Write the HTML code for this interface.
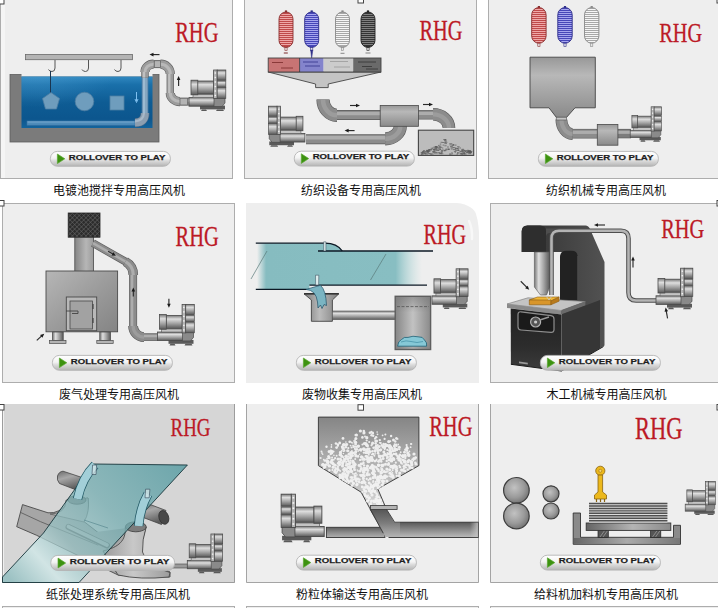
<!DOCTYPE html>
<html lang="zh-CN"><head><meta charset="utf-8"><title>高压风机应用</title>
<style>
html,body{margin:0;padding:0;background:#fff;}
body{width:718px;height:608px;position:relative;overflow:hidden;font-family:"Liberation Sans","Noto Sans CJK SC",sans-serif;}
.cap{position:absolute;width:200px;text-align:center;font-size:12px;line-height:18px;height:18px;color:#111;white-space:nowrap;}
</style></head><body>
<svg width="718" height="608" viewBox="0 0 718 608" style="position:absolute;left:0;top:0"><defs>
<linearGradient id="gH" x1="0" y1="0" x2="0" y2="1">
 <stop offset="0" stop-color="#787878"/><stop offset="0.28" stop-color="#dedede"/><stop offset="0.6" stop-color="#a6a6a6"/><stop offset="1" stop-color="#5a5a5a"/>
</linearGradient>
<linearGradient id="gV" x1="0" y1="0" x2="1" y2="0">
 <stop offset="0" stop-color="#787878"/><stop offset="0.28" stop-color="#dedede"/><stop offset="0.6" stop-color="#a6a6a6"/><stop offset="1" stop-color="#5a5a5a"/>
</linearGradient>
<linearGradient id="gBtn" x1="0" y1="0" x2="0" y2="1">
 <stop offset="0" stop-color="#ffffff"/><stop offset="0.45" stop-color="#f3f3f3"/><stop offset="0.62" stop-color="#dcdcdc"/><stop offset="1" stop-color="#b4b4b4"/>
</linearGradient>
<linearGradient id="gBox" x1="0" y1="0" x2="0" y2="1">
 <stop offset="0" stop-color="#989898"/><stop offset="0.3" stop-color="#b8b8b8"/><stop offset="1" stop-color="#8a8a8a"/>
</linearGradient>
<linearGradient id="gWater" x1="0" y1="0" x2="0" y2="1">
 <stop offset="0" stop-color="#3088c0"/><stop offset="0.16" stop-color="#1a70aa"/><stop offset="0.5" stop-color="#0e5c94"/><stop offset="0.82" stop-color="#0c568e"/><stop offset="1" stop-color="#14649c"/>
</linearGradient>
</defs>
<rect x="0.5" y="-0.5" width="232" height="179" fill="#eeeeee" stroke="#adadad" stroke-width="1"/>
<rect x="1" y="0" width="4" height="178" fill="#f5f5f5" stroke="none" stroke-width="1" />
<rect x="-1.5" y="-1.5" width="5.5" height="5.5" fill="#fff" stroke="#444" stroke-width="1"/>
<text x="175.2" y="42.4" font-family="Liberation Serif, serif" font-size="28.5" fill="#bc1a26" stroke="#bc1a26" stroke-width="0.3" textLength="43.3" lengthAdjust="spacingAndGlyphs">RHG</text>
<rect x="25.5" y="54.5" width="107" height="5.2" fill="#b4b4b4" stroke="#6a6a6a" stroke-width="0.8" />
<path d="M55 60V68Q55 71.5 52 71.5Q49.5 71.5 48.5 69.5" fill="none" stroke="#555" stroke-width="1"/>
<path d="M88.5 60V68Q88.5 71.5 85.5 71.5Q83.0 71.5 82.0 69.5" fill="none" stroke="#555" stroke-width="1"/>
<path d="M121 60V68Q121 71.5 118 71.5Q115.5 71.5 114.5 69.5" fill="none" stroke="#555" stroke-width="1"/>
<rect x="10" y="74.5" width="149" height="67.5" fill="#7b7b7b" stroke="#5e5e5e" stroke-width="0.8" />
<rect x="21.5" y="72" width="131" height="4.5" fill="#eeeeee" stroke="none" stroke-width="1" />
<rect x="21.5" y="76.5" width="131" height="51.5" fill="url(#gWater)" stroke="none" stroke-width="1" />
<radialGradient id="gWl" cx="0.1" cy="0" r="0.6"><stop offset="0" stop-color="#58a6d8" stop-opacity="0.35"/><stop offset="1" stop-color="#58a6d8" stop-opacity="0"/></radialGradient>
<rect x="21.5" y="76.5" width="131" height="51.5" fill="url(#gWl)" stroke="none" stroke-width="1" />
<path d="M50.5 71V93" stroke="#1a3550" stroke-width="1"/>
<path d="M51 92.5L59.5 98.5L56.5 109H45.5L42.5 98.5Z" fill="#6f9dbd" stroke="#4f7fa3" stroke-width="0.8"/>
<circle cx="84.5" cy="101.5" r="9.3" fill="#6f9dbd" stroke="#4f7fa3" stroke-width="0.8"/>
<rect x="110" y="96" width="14" height="14" fill="#6f9dbd" stroke="#4f7fa3" stroke-width="0.8" />
<rect x="27" y="121" width="108" height="4.2" fill="#4f8cba" stroke="#3a75a6" stroke-width="0.6" />
<path d="M27.5 122H134.5" stroke="#7aaad0" stroke-width="0.9"/>
<path d="M145 76V114" fill="none" stroke="#4878a0" stroke-width="6.8"/>
<path d="M145 76V114" fill="none" stroke="#86a6c0" stroke-width="5.2"/>
<path d="M144 77V114" fill="none" stroke="#a4c0d6" stroke-width="1.6"/>
<path d="M145 113Q145 122.6 135 122.8" fill="none" stroke="#4a6a88" stroke-width="9"/>
<path d="M145 113Q145 122.6 135 122.8" fill="none" stroke="#8c9eb0" stroke-width="7.6"/>
<path d="M144 113Q143.5 120.8 135 121.4" fill="none" stroke="#a8b8c8" stroke-width="2.2"/>
<path d="M136.5 92V101M135 99L136.5 102.5L138 99" stroke="#7fc0f0" stroke-width="1" fill="none"/>
<path d="M145 77.5V71" fill="none" stroke="#606060" stroke-width="7.4" stroke-linecap="butt" stroke-linejoin="round"/>
<path d="M145 77.5V71" fill="none" stroke="#9a9a9a" stroke-width="6.2" stroke-linecap="butt" stroke-linejoin="round"/>
<path d="M145 77.5V71" fill="none" stroke="#c0c0c0" stroke-width="2.36" stroke-linecap="butt" stroke-linejoin="round" transform="translate(-0.99 0.00)"/>
<path d="M153 64.2H161" fill="none" stroke="#606060" stroke-width="7.8" stroke-linecap="butt" stroke-linejoin="round"/>
<path d="M153 64.2H161" fill="none" stroke="#9a9a9a" stroke-width="6.6" stroke-linecap="butt" stroke-linejoin="round"/>
<path d="M153 64.2H161" fill="none" stroke="#c0c0c0" stroke-width="2.51" stroke-linecap="butt" stroke-linejoin="round" transform="translate(0.00 -1.06)"/>
<path d="M170.3 73V94" fill="none" stroke="#606060" stroke-width="7.4" stroke-linecap="butt" stroke-linejoin="round"/>
<path d="M170.3 73V94" fill="none" stroke="#9a9a9a" stroke-width="6.2" stroke-linecap="butt" stroke-linejoin="round"/>
<path d="M170.3 73V94" fill="none" stroke="#c0c0c0" stroke-width="2.36" stroke-linecap="butt" stroke-linejoin="round" transform="translate(-0.99 0.00)"/>
<path d="M179 101.6H189.5" fill="none" stroke="#606060" stroke-width="7.8" stroke-linecap="butt" stroke-linejoin="round"/>
<path d="M179 101.6H189.5" fill="none" stroke="#9a9a9a" stroke-width="6.6" stroke-linecap="butt" stroke-linejoin="round"/>
<path d="M179 101.6H189.5" fill="none" stroke="#c0c0c0" stroke-width="2.51" stroke-linecap="butt" stroke-linejoin="round" transform="translate(0.00 -1.06)"/>
<path d="M145 72A8.5 7.799999999999997 0 0 1 153.5 64.2" fill="none" stroke="#606060" stroke-width="9.2" stroke-linecap="butt" stroke-linejoin="round"/>
<path d="M145 72A8.5 7.799999999999997 0 0 1 153.5 64.2" fill="none" stroke="#9c9c9c" stroke-width="8" stroke-linecap="butt" stroke-linejoin="round"/>
<path d="M145 72A8.5 7.799999999999997 0 0 1 153.5 64.2" fill="none" stroke="#b8b8b8" stroke-width="3.04" stroke-linecap="butt" stroke-linejoin="round" transform="translate(0.00 0.00)"/>
<path d="M160.5 64.2A9.800000000000011 9.799999999999997 0 0 1 170.3 74" fill="none" stroke="#606060" stroke-width="9.2" stroke-linecap="butt" stroke-linejoin="round"/>
<path d="M160.5 64.2A9.800000000000011 9.799999999999997 0 0 1 170.3 74" fill="none" stroke="#9c9c9c" stroke-width="8" stroke-linecap="butt" stroke-linejoin="round"/>
<path d="M160.5 64.2A9.800000000000011 9.799999999999997 0 0 1 170.3 74" fill="none" stroke="#b8b8b8" stroke-width="3.04" stroke-linecap="butt" stroke-linejoin="round" transform="translate(0.00 0.00)"/>
<path d="M170.3 93A9.699999999999989 8.599999999999994 0 0 0 180 101.6" fill="none" stroke="#606060" stroke-width="9.2" stroke-linecap="butt" stroke-linejoin="round"/>
<path d="M170.3 93A9.699999999999989 8.599999999999994 0 0 0 180 101.6" fill="none" stroke="#9c9c9c" stroke-width="8" stroke-linecap="butt" stroke-linejoin="round"/>
<path d="M170.3 93A9.699999999999989 8.599999999999994 0 0 0 180 101.6" fill="none" stroke="#b8b8b8" stroke-width="3.04" stroke-linecap="butt" stroke-linejoin="round" transform="translate(0.00 0.00)"/>
<rect x="154.3" y="60.8" width="6" height="6.8" fill="#b4b4b4" stroke="#555" stroke-width="0.6" />
<rect x="180" y="98.2" width="7.4" height="6.8" fill="#b4b4b4" stroke="#555" stroke-width="0.6" />
<g transform="translate(154.5 54.6) rotate(180)"><path d="M-5.0 0H2.0" stroke="#2a2a2a" stroke-width="1.15"/><path d="M5.0 0L1.0 -1.8L1.0 1.8Z" fill="#1a1a1a"/></g>
<g transform="translate(178.6 81) rotate(270)"><path d="M-5.0 0H2.0" stroke="#2a2a2a" stroke-width="1.15"/><path d="M5.0 0L1.0 -1.8L1.0 1.8Z" fill="#1a1a1a"/></g>
<g transform="translate(189 70) scale(1.0)"><rect x="11" y="35.6" width="25" height="3.8" fill="#5a5a5a"/><path d="M13 39.4h4l1 1.6h-6z M28 39.4h6l1 1.6h-8z" fill="#5a5a5a"/><rect x="0" y="27.6" width="26.5" height="8.6" fill="url(#gH)" stroke="#4a4a4a" stroke-width="0.8"/><rect x="4" y="24.6" width="21" height="3" fill="#c4c4c4" stroke="#5a5a5a" stroke-width="0.6"/><rect x="8.6" y="11" width="16.2" height="13" fill="url(#gH)" stroke="#4a4a4a" stroke-width="0.8"/><rect x="2" y="10.2" width="6.8" height="14.6" fill="url(#gH)" stroke="#4a4a4a" stroke-width="0.8"/><path d="M25 28h11v5l-3 3.5h-8z" fill="#8a8a8a" stroke="#4a4a4a" stroke-width="0.7"/><rect x="24.6" y="0" width="3.6" height="28.5" fill="#b4b4b4" stroke="#4a4a4a" stroke-width="0.8"/><rect x="25.6" y="2.3" width="1.5" height="1.4" fill="#f2f2f2"/><rect x="25.6" y="6.8" width="1.5" height="1.4" fill="#f2f2f2"/><rect x="25.6" y="11.3" width="1.5" height="1.4" fill="#f2f2f2"/><rect x="25.6" y="15.8" width="1.5" height="1.4" fill="#f2f2f2"/><rect x="25.6" y="20.3" width="1.5" height="1.4" fill="#f2f2f2"/><rect x="25.6" y="24.8" width="1.5" height="1.4" fill="#f2f2f2"/><rect x="28.2" y="0" width="8.6" height="10.2" fill="url(#gH)" stroke="#4a4a4a" stroke-width="0.8"/><rect x="28.2" y="10.8" width="8.6" height="6.4" fill="url(#gH)" stroke="#4a4a4a" stroke-width="0.7"/><rect x="28.2" y="17.6" width="8.6" height="10.8" fill="url(#gH)" stroke="#4a4a4a" stroke-width="0.7"/></g>
<rect x="50.4" y="151.4" width="120" height="14.9" rx="7" fill="url(#gBtn)" stroke="#b4b4b4" stroke-width="0.9"/>
<path d="M57.40 154.00L64.80 158.80L57.40 163.60Z" fill="#3d9210" stroke="#5aa832" stroke-width="0.7" stroke-linejoin="round"/>
<text x="68.80" y="159.60" font-family="Liberation Sans, sans-serif" font-weight="bold" font-size="7.70" fill="#1e1e1e" stroke="#1e1e1e" stroke-width="0.25" textLength="96.5" lengthAdjust="spacingAndGlyphs">ROLLOVER TO PLAY</text>
<rect x="244.5" y="-0.5" width="232" height="179" fill="#eeeeee" stroke="#adadad" stroke-width="1"/>
<rect x="358.0" y="-2.5" width="5.5" height="5.5" fill="#fff" stroke="#444" stroke-width="1"/>
<text x="419.5" y="40.4" font-family="Liberation Serif, serif" font-size="28.5" fill="#bc1a26" stroke="#bc1a26" stroke-width="0.3" textLength="43.0" lengthAdjust="spacingAndGlyphs">RHG</text>
<rect x="284.9" y="10.4" width="2.2" height="2.4" fill="#8a3030"/>
<rect x="284.9" y="46.9" width="2.2" height="3.6" fill="#e6e6e6" stroke="#8a3030" stroke-width="0.6"/>
<clipPath id="sp2860"><rect x="279.0" y="12" width="14" height="35.4" rx="7.0" ry="7.0"/></clipPath>
<rect x="279.0" y="12" width="14" height="35.4" rx="7.0" ry="7.0" fill="#bf4a4a"/>
<path d="M279.0 14.5H293.0M279.0 16.5H293.0M279.0 18.5H293.0M279.0 20.5H293.0M279.0 22.5H293.0M279.0 24.5H293.0M279.0 26.5H293.0M279.0 28.5H293.0M279.0 30.5H293.0M279.0 32.5H293.0M279.0 34.5H293.0M279.0 36.5H293.0M279.0 38.5H293.0M279.0 40.5H293.0M279.0 42.5H293.0M279.0 44.5H293.0" stroke="#efa8a8" stroke-width="1" clip-path="url(#sp2860)"/>
<rect x="279.0" y="12" width="14" height="35.4" rx="7.0" ry="7.0" fill="none" stroke="#8a3030" stroke-width="0.9"/>
<rect x="310.59999999999997" y="10.4" width="2.2" height="2.4" fill="#30308a"/>
<rect x="310.59999999999997" y="46.9" width="2.2" height="3.6" fill="#e6e6e6" stroke="#30308a" stroke-width="0.6"/>
<clipPath id="sp3117"><rect x="304.7" y="12" width="14" height="35.4" rx="7.0" ry="7.0"/></clipPath>
<rect x="304.7" y="12" width="14" height="35.4" rx="7.0" ry="7.0" fill="#4646b8"/>
<path d="M304.7 14.5H318.7M304.7 16.5H318.7M304.7 18.5H318.7M304.7 20.5H318.7M304.7 22.5H318.7M304.7 24.5H318.7M304.7 26.5H318.7M304.7 28.5H318.7M304.7 30.5H318.7M304.7 32.5H318.7M304.7 34.5H318.7M304.7 36.5H318.7M304.7 38.5H318.7M304.7 40.5H318.7M304.7 42.5H318.7M304.7 44.5H318.7" stroke="#a6a6ee" stroke-width="1" clip-path="url(#sp3117)"/>
<rect x="304.7" y="12" width="14" height="35.4" rx="7.0" ry="7.0" fill="none" stroke="#30308a" stroke-width="0.9"/>
<rect x="341.4" y="10.4" width="2.2" height="2.4" fill="#8a8a8a"/>
<rect x="341.4" y="46.9" width="2.2" height="3.6" fill="#e6e6e6" stroke="#8a8a8a" stroke-width="0.6"/>
<clipPath id="sp3425"><rect x="335.5" y="12" width="14" height="35.4" rx="7.0" ry="7.0"/></clipPath>
<rect x="335.5" y="12" width="14" height="35.4" rx="7.0" ry="7.0" fill="#a8a8a8"/>
<path d="M335.5 14.5H349.5M335.5 16.5H349.5M335.5 18.5H349.5M335.5 20.5H349.5M335.5 22.5H349.5M335.5 24.5H349.5M335.5 26.5H349.5M335.5 28.5H349.5M335.5 30.5H349.5M335.5 32.5H349.5M335.5 34.5H349.5M335.5 36.5H349.5M335.5 38.5H349.5M335.5 40.5H349.5M335.5 42.5H349.5M335.5 44.5H349.5" stroke="#f6f6f6" stroke-width="1" clip-path="url(#sp3425)"/>
<rect x="335.5" y="12" width="14" height="35.4" rx="7.0" ry="7.0" fill="none" stroke="#8a8a8a" stroke-width="0.9"/>
<rect x="366.9" y="10.4" width="2.2" height="2.4" fill="#222222"/>
<rect x="366.9" y="46.9" width="2.2" height="3.6" fill="#e6e6e6" stroke="#222222" stroke-width="0.6"/>
<clipPath id="sp3680"><rect x="361.0" y="12" width="14" height="35.4" rx="7.0" ry="7.0"/></clipPath>
<rect x="361.0" y="12" width="14" height="35.4" rx="7.0" ry="7.0" fill="#343434"/>
<path d="M361.0 14.5H375.0M361.0 16.5H375.0M361.0 18.5H375.0M361.0 20.5H375.0M361.0 22.5H375.0M361.0 24.5H375.0M361.0 26.5H375.0M361.0 28.5H375.0M361.0 30.5H375.0M361.0 32.5H375.0M361.0 34.5H375.0M361.0 36.5H375.0M361.0 38.5H375.0M361.0 40.5H375.0M361.0 42.5H375.0M361.0 44.5H375.0" stroke="#808080" stroke-width="1" clip-path="url(#sp3680)"/>
<rect x="361.0" y="12" width="14" height="35.4" rx="7.0" ry="7.0" fill="none" stroke="#222222" stroke-width="0.9"/>
<path d="M283.8 53H287.8" stroke="#7a2a2a" stroke-width="1"/>
<path d="M310.6 50L311.7 58.5L312.8 50Z" fill="#30308a" stroke="#30308a" stroke-width="0.5"/>
<path d="M340.5 53.3H344.5" stroke="#888" stroke-width="1"/>
<path d="M365.5 53H370.5" stroke="#aaa" stroke-width="1.6"/>
<path d="M268.2 72H381L328.2 84V87.6H315.6V84Z" fill="#c4c4c4" stroke="#444" stroke-width="0.9"/>
<rect x="268.2" y="58" width="31.4" height="14" fill="#c87474" stroke="none" stroke-width="1" />
<rect x="299.6" y="58" width="24" height="14" fill="#8484cc" stroke="none" stroke-width="1" />
<rect x="323.6" y="58" width="29.6" height="14" fill="#cccccc" stroke="none" stroke-width="1" />
<rect x="353.2" y="58" width="27.8" height="14" fill="#6a6a6a" stroke="none" stroke-width="1" />
<rect x="268.2" y="58" width="112.8" height="14" fill="none" stroke="#444" stroke-width="0.9" />
<path d="M299.6 58V72" stroke="#333" stroke-width="0.8"/>
<path d="M272 62.5H283M281 68H293" stroke="#7a2a2a" stroke-width="0.8"/>
<path d="M303 62H318M305 66H320" stroke="#33338c" stroke-width="0.8"/>
<path d="M330 61.5H348M334 67H350" stroke="#999" stroke-width="0.8"/>
<path d="M358 62H376M362 66.5H372M366 69H378" stroke="#333" stroke-width="0.8"/>
<path d="M336.5 115H381" fill="none" stroke="#5a5a5a" stroke-width="9.799999999999999" stroke-linecap="butt" stroke-linejoin="round"/>
<path d="M336.5 115H381" fill="none" stroke="#8c8c8c" stroke-width="8.6" stroke-linecap="butt" stroke-linejoin="round"/>
<path d="M336.5 115H381" fill="none" stroke="#adadad" stroke-width="3.27" stroke-linecap="butt" stroke-linejoin="round" transform="translate(0.00 -1.38)"/>
<path d="M418 114.8H434" fill="none" stroke="#5a5a5a" stroke-width="9.399999999999999" stroke-linecap="butt" stroke-linejoin="round"/>
<path d="M418 114.8H434" fill="none" stroke="#8c8c8c" stroke-width="8.2" stroke-linecap="butt" stroke-linejoin="round"/>
<path d="M418 114.8H434" fill="none" stroke="#adadad" stroke-width="3.12" stroke-linecap="butt" stroke-linejoin="round" transform="translate(0.00 -1.31)"/>
<path d="M306 139.2H386" fill="none" stroke="#5a5a5a" stroke-width="10.0" stroke-linecap="butt" stroke-linejoin="round"/>
<path d="M306 139.2H386" fill="none" stroke="#8c8c8c" stroke-width="8.8" stroke-linecap="butt" stroke-linejoin="round"/>
<path d="M306 139.2H386" fill="none" stroke="#adadad" stroke-width="3.34" stroke-linecap="butt" stroke-linejoin="round" transform="translate(0.00 -1.41)"/>
<path d="M323 99.5A14 15.799999999999997 0 0 0 337 115.3" fill="none" stroke="#5a5a5a" stroke-width="13.2" stroke-linecap="butt" stroke-linejoin="round"/>
<path d="M323 99.5A14 15.799999999999997 0 0 0 337 115.3" fill="none" stroke="#8c8c8c" stroke-width="12" stroke-linecap="butt" stroke-linejoin="round"/>
<path d="M323 99.5A14 15.799999999999997 0 0 0 337 115.3" fill="none" stroke="#9c9c9c" stroke-width="4.56" stroke-linecap="butt" stroke-linejoin="round" transform="translate(0.00 0.00)"/>
<path d="M433 114.3A16 13.700000000000003 0 0 1 449 128" fill="none" stroke="#5a5a5a" stroke-width="12.6" stroke-linecap="butt" stroke-linejoin="round"/>
<path d="M433 114.3A16 13.700000000000003 0 0 1 449 128" fill="none" stroke="#8c8c8c" stroke-width="11.4" stroke-linecap="butt" stroke-linejoin="round"/>
<path d="M433 114.3A16 13.700000000000003 0 0 1 449 128" fill="none" stroke="#9c9c9c" stroke-width="4.33" stroke-linecap="butt" stroke-linejoin="round" transform="translate(0.00 0.00)"/>
<path d="M385.2 138.8A15.100000000000023 12.800000000000011 0 0 0 400.3 126" fill="none" stroke="#5a5a5a" stroke-width="13.2" stroke-linecap="butt" stroke-linejoin="round"/>
<path d="M385.2 138.8A15.100000000000023 12.800000000000011 0 0 0 400.3 126" fill="none" stroke="#8c8c8c" stroke-width="12" stroke-linecap="butt" stroke-linejoin="round"/>
<path d="M385.2 138.8A15.100000000000023 12.800000000000011 0 0 0 400.3 126" fill="none" stroke="#9c9c9c" stroke-width="4.56" stroke-linecap="butt" stroke-linejoin="round" transform="translate(0.00 0.00)"/>
<rect x="380.2" y="105.5" width="38.2" height="20.8" fill="url(#gBox)" stroke="#4a4a4a" stroke-width="0.8"/>
<g transform="translate(355 105.5) rotate(0)"><path d="M-5.0 0H2.0" stroke="#2a2a2a" stroke-width="1.15"/><path d="M5.0 0L1.0 -1.8L1.0 1.8Z" fill="#1a1a1a"/></g>
<g transform="translate(428 104.5) rotate(0)"><path d="M-5.0 0H2.0" stroke="#2a2a2a" stroke-width="1.15"/><path d="M5.0 0L1.0 -1.8L1.0 1.8Z" fill="#1a1a1a"/></g>
<g transform="translate(349.6 130.6) rotate(180)"><path d="M-5.0 0H2.0" stroke="#2a2a2a" stroke-width="1.15"/><path d="M5.0 0L1.0 -1.8L1.0 1.8Z" fill="#1a1a1a"/></g>
<rect x="418.4" y="130.2" width="55.3" height="25.2" fill="#bcbcbc" stroke="#444" stroke-width="1.1" />
<path d="M451.6 145.3h2.8M467.6 151.3h3.0M422.0 152.9h3.1M452.9 144.5h1.4M444.0 150.6h2.3M449.2 154.1h1.6M434.5 147.2h2.7M428.5 149.8h1.5M451.4 152.7h1.2M464.1 153.2h1.6M469.6 151.5h1.8M468.6 152.4h2.6M430.7 148.3h2.6M468.8 151.2h1.8M438.6 152.6h1.5M423.8 153.2h2.4M420.7 152.6h1.9M436.0 147.3h2.2M436.3 150.1h2.6M423.4 150.8h1.2M458.0 147.9h1.2M459.9 151.8h2.4M421.0 154.2h1.6M468.3 153.6h2.7M467.0 150.3h1.9M438.2 149.0h2.8M425.9 150.8h2.8M463.5 154.1h3.1M425.1 152.8h2.4M466.4 152.8h3.0M447.8 149.5h1.8M429.4 153.8h1.5M455.0 145.1h1.5M422.9 151.0h2.3M440.8 151.3h2.4M461.8 151.5h2.0M423.3 151.0h1.3M445.2 141.1h1.5M457.1 146.7h2.5M459.9 153.6h2.1M428.0 149.7h1.8M443.2 139.6h2.9M469.3 152.8h2.2M457.0 150.5h1.8M440.7 152.5h2.0M469.9 151.4h2.5M445.5 149.0h1.4M434.1 148.4h2.9M438.6 146.1h2.7M455.2 148.3h2.7M438.7 146.9h1.8M444.8 142.3h2.6M435.2 146.6h2.5M449.5 154.1h2.3M433.0 149.5h2.1M461.3 150.2h2.8M437.9 148.0h2.7M461.9 152.1h2.9M464.0 150.5h3.2M468.3 152.4h2.3M428.8 149.5h3.1M444.4 143.6h2.6M457.0 152.9h2.8M449.5 144.9h2.0M451.7 145.0h2.5M456.5 154.1h1.5M442.6 145.1h1.6M454.8 148.4h1.3M444.1 150.8h1.3M427.2 152.7h1.6M430.2 154.1h2.1M439.5 147.4h2.4M432.4 148.0h1.2M440.8 150.8h2.0M426.3 150.3h1.9M422.3 152.4h1.4M447.8 149.1h2.4M468.4 151.3h2.0M461.1 150.2h1.9M427.6 151.1h2.3M468.4 150.7h2.4M438.1 145.4h1.2M425.9 151.7h2.4M427.5 151.0h3.0M439.3 149.5h1.7M435.1 146.5h2.0M468.6 151.0h2.4M433.5 147.1h2.2M441.3 150.1h3.2M445.1 149.8h2.2M426.6 151.2h2.1M435.2 148.0h2.9M421.2 152.9h1.7M467.3 151.0h1.7M433.9 153.1h3.2M435.2 149.4h2.1M452.7 147.6h2.7M426.4 150.6h1.8M447.2 149.1h1.8M447.0 147.0h1.9M457.8 149.8h1.3M433.1 151.0h3.0M464.9 151.5h1.2M459.4 151.3h2.4M455.9 148.9h2.2M466.1 152.5h2.0M463.1 153.2h1.8M462.0 153.9h2.9M455.2 150.4h1.8M459.5 148.0h1.5M444.4 145.8h2.2M437.0 152.9h2.4M461.1 153.9h1.7M461.5 149.3h2.5M421.8 152.2h3.2M470.4 152.3h1.3M462.6 153.0h2.5M468.1 151.6h1.5M435.1 146.9h1.5M451.0 149.0h1.5M451.6 153.8h1.4M439.5 153.5h1.3M449.3 143.7h3.0M427.2 152.1h1.8M450.5 147.8h3.1M439.2 153.7h2.6M428.1 150.8h2.2M466.0 151.7h2.4M433.7 150.2h1.7M458.0 150.4h1.5M432.2 151.7h2.7M429.5 150.0h2.5M424.8 151.5h1.4M426.7 151.3h1.7M464.3 151.7h1.8M460.3 154.1h2.7M423.2 153.8h3.1M454.6 152.2h1.4M469.1 152.1h2.8M427.5 151.0h1.9M432.3 152.0h2.4M437.9 150.5h1.5M462.1 150.3h2.8M442.2 142.5h2.2M450.1 146.5h2.7M440.3 153.1h1.3M430.6 154.0h3.0M444.5 142.5h1.2M444.0 140.8h2.4M441.9 148.0h1.4M428.2 153.4h1.9M439.8 144.1h1.5M433.2 152.3h1.5M434.9 152.4h2.2M422.1 151.5h1.9M467.4 151.5h2.5M444.1 139.9h1.4M453.9 151.4h2.5M457.0 153.0h1.6M421.7 153.6h1.4M440.6 142.3h1.9M436.1 150.3h1.8M457.1 148.6h1.5M432.5 149.6h3.1M452.8 149.6h3.2M420.8 154.1h2.8M441.0 153.7h2.3M470.0 152.7h1.9M425.2 154.0h3.0M445.1 139.6h1.3" stroke="#5a5a5a" stroke-width="0.7" fill="none"/>
<g transform="translate(304.9 106.2) scale(-0.99 0.99)"><rect x="11" y="35.6" width="25" height="3.8" fill="#5a5a5a"/><path d="M13 39.4h4l1 1.6h-6z M28 39.4h6l1 1.6h-8z" fill="#5a5a5a"/><rect x="0" y="27.6" width="26.5" height="8.6" fill="url(#gH)" stroke="#4a4a4a" stroke-width="0.8"/><rect x="4" y="24.6" width="21" height="3" fill="#c4c4c4" stroke="#5a5a5a" stroke-width="0.6"/><rect x="8.6" y="11" width="16.2" height="13" fill="url(#gH)" stroke="#4a4a4a" stroke-width="0.8"/><rect x="2" y="10.2" width="6.8" height="14.6" fill="url(#gH)" stroke="#4a4a4a" stroke-width="0.8"/><path d="M25 28h11v5l-3 3.5h-8z" fill="#8a8a8a" stroke="#4a4a4a" stroke-width="0.7"/><rect x="24.6" y="0" width="3.6" height="28.5" fill="#b4b4b4" stroke="#4a4a4a" stroke-width="0.8"/><rect x="25.6" y="2.3" width="1.5" height="1.4" fill="#f2f2f2"/><rect x="25.6" y="6.8" width="1.5" height="1.4" fill="#f2f2f2"/><rect x="25.6" y="11.3" width="1.5" height="1.4" fill="#f2f2f2"/><rect x="25.6" y="15.8" width="1.5" height="1.4" fill="#f2f2f2"/><rect x="25.6" y="20.3" width="1.5" height="1.4" fill="#f2f2f2"/><rect x="25.6" y="24.8" width="1.5" height="1.4" fill="#f2f2f2"/><rect x="28.2" y="0" width="8.6" height="10.2" fill="url(#gH)" stroke="#4a4a4a" stroke-width="0.8"/><rect x="28.2" y="10.8" width="8.6" height="6.4" fill="url(#gH)" stroke="#4a4a4a" stroke-width="0.7"/><rect x="28.2" y="17.6" width="8.6" height="10.8" fill="url(#gH)" stroke="#4a4a4a" stroke-width="0.7"/></g>
<rect x="294.3" y="151.2" width="120" height="14.9" rx="7" fill="url(#gBtn)" stroke="#b4b4b4" stroke-width="0.9"/>
<path d="M301.30 153.80L308.70 158.60L301.30 163.40Z" fill="#3d9210" stroke="#5aa832" stroke-width="0.7" stroke-linejoin="round"/>
<text x="312.70" y="159.40" font-family="Liberation Sans, sans-serif" font-weight="bold" font-size="7.70" fill="#1e1e1e" stroke="#1e1e1e" stroke-width="0.25" textLength="96.5" lengthAdjust="spacingAndGlyphs">ROLLOVER TO PLAY</text>
<rect x="488.5" y="-0.5" width="232" height="179" fill="#eeeeee" stroke="#adadad" stroke-width="1"/>
<text x="659.3" y="42.2" font-family="Liberation Serif, serif" font-size="28" fill="#bc1a26" stroke="#bc1a26" stroke-width="0.3" textLength="42.8" lengthAdjust="spacingAndGlyphs">RHG</text>
<rect x="717.0" y="-2.5" width="5.5" height="5.5" fill="#fff" stroke="#444" stroke-width="1"/>
<rect x="537.8" y="6.0" width="2.2" height="2.4" fill="#8a3030"/>
<rect x="537.8" y="42.7" width="2.2" height="3.6" fill="#e6e6e6" stroke="#8a3030" stroke-width="0.6"/>
<clipPath id="sp5389"><rect x="531.6999999999999" y="7.6" width="14.4" height="35.6" rx="7.2" ry="7.2"/></clipPath>
<rect x="531.6999999999999" y="7.6" width="14.4" height="35.6" rx="7.2" ry="7.2" fill="#bf4a4a"/>
<path d="M531.6999999999999 9.5H546.0999999999999M531.6999999999999 11.5H546.0999999999999M531.6999999999999 13.5H546.0999999999999M531.6999999999999 15.5H546.0999999999999M531.6999999999999 17.5H546.0999999999999M531.6999999999999 19.5H546.0999999999999M531.6999999999999 21.5H546.0999999999999M531.6999999999999 23.5H546.0999999999999M531.6999999999999 25.5H546.0999999999999M531.6999999999999 27.5H546.0999999999999M531.6999999999999 29.5H546.0999999999999M531.6999999999999 31.5H546.0999999999999M531.6999999999999 33.5H546.0999999999999M531.6999999999999 35.5H546.0999999999999M531.6999999999999 37.5H546.0999999999999M531.6999999999999 39.5H546.0999999999999M531.6999999999999 41.5H546.0999999999999" stroke="#efa8a8" stroke-width="1" clip-path="url(#sp5389)"/>
<rect x="531.6999999999999" y="7.6" width="14.4" height="35.6" rx="7.2" ry="7.2" fill="none" stroke="#8a3030" stroke-width="0.9"/>
<rect x="563.9" y="6.0" width="2.2" height="2.4" fill="#30308a"/>
<rect x="563.9" y="42.7" width="2.2" height="3.6" fill="#e6e6e6" stroke="#30308a" stroke-width="0.6"/>
<clipPath id="sp5650"><rect x="557.8" y="7.6" width="14.4" height="35.6" rx="7.2" ry="7.2"/></clipPath>
<rect x="557.8" y="7.6" width="14.4" height="35.6" rx="7.2" ry="7.2" fill="#4646b8"/>
<path d="M557.8 9.5H572.1999999999999M557.8 11.5H572.1999999999999M557.8 13.5H572.1999999999999M557.8 15.5H572.1999999999999M557.8 17.5H572.1999999999999M557.8 19.5H572.1999999999999M557.8 21.5H572.1999999999999M557.8 23.5H572.1999999999999M557.8 25.5H572.1999999999999M557.8 27.5H572.1999999999999M557.8 29.5H572.1999999999999M557.8 31.5H572.1999999999999M557.8 33.5H572.1999999999999M557.8 35.5H572.1999999999999M557.8 37.5H572.1999999999999M557.8 39.5H572.1999999999999M557.8 41.5H572.1999999999999" stroke="#a6a6ee" stroke-width="1" clip-path="url(#sp5650)"/>
<rect x="557.8" y="7.6" width="14.4" height="35.6" rx="7.2" ry="7.2" fill="none" stroke="#30308a" stroke-width="0.9"/>
<rect x="590.6" y="6.0" width="2.2" height="2.4" fill="#8a8a8a"/>
<rect x="590.6" y="42.7" width="2.2" height="3.6" fill="#e6e6e6" stroke="#8a8a8a" stroke-width="0.6"/>
<clipPath id="sp5917"><rect x="584.5" y="7.6" width="14.4" height="35.6" rx="7.2" ry="7.2"/></clipPath>
<rect x="584.5" y="7.6" width="14.4" height="35.6" rx="7.2" ry="7.2" fill="#a8a8a8"/>
<path d="M584.5 9.5H598.9M584.5 11.5H598.9M584.5 13.5H598.9M584.5 15.5H598.9M584.5 17.5H598.9M584.5 19.5H598.9M584.5 21.5H598.9M584.5 23.5H598.9M584.5 25.5H598.9M584.5 27.5H598.9M584.5 29.5H598.9M584.5 31.5H598.9M584.5 33.5H598.9M584.5 35.5H598.9M584.5 37.5H598.9M584.5 39.5H598.9M584.5 41.5H598.9" stroke="#f6f6f6" stroke-width="1" clip-path="url(#sp5917)"/>
<rect x="584.5" y="7.6" width="14.4" height="35.6" rx="7.2" ry="7.2" fill="none" stroke="#8a8a8a" stroke-width="0.9"/>
<path d="M530 57.2H595.3V107.8H575L566.5 117.4H556.4L549 107.8H530Z" fill="url(#gBox)" stroke="#444" stroke-width="0.9"/>
<path d="M572 133.7H598" fill="none" stroke="#5a5a5a" stroke-width="9.6" stroke-linecap="butt" stroke-linejoin="round"/>
<path d="M572 133.7H598" fill="none" stroke="#8c8c8c" stroke-width="8.4" stroke-linecap="butt" stroke-linejoin="round"/>
<path d="M572 133.7H598" fill="none" stroke="#adadad" stroke-width="3.19" stroke-linecap="butt" stroke-linejoin="round" transform="translate(0.00 -1.34)"/>
<path d="M617 133.6H631" fill="none" stroke="#5a5a5a" stroke-width="9.399999999999999" stroke-linecap="butt" stroke-linejoin="round"/>
<path d="M617 133.6H631" fill="none" stroke="#7c7c7c" stroke-width="8.2" stroke-linecap="butt" stroke-linejoin="round"/>
<path d="M617 133.6H631" fill="none" stroke="#adadad" stroke-width="3.12" stroke-linecap="butt" stroke-linejoin="round" transform="translate(0.00 -1.31)"/>
<path d="M561.4 119.5A11.100000000000023 14.5 0 0 0 572.5 134" fill="none" stroke="#5a5a5a" stroke-width="11.799999999999999" stroke-linecap="butt" stroke-linejoin="round"/>
<path d="M561.4 119.5A11.100000000000023 14.5 0 0 0 572.5 134" fill="none" stroke="#8c8c8c" stroke-width="10.6" stroke-linecap="butt" stroke-linejoin="round"/>
<path d="M561.4 119.5A11.100000000000023 14.5 0 0 0 572.5 134" fill="none" stroke="#9c9c9c" stroke-width="4.03" stroke-linecap="butt" stroke-linejoin="round" transform="translate(0.00 0.00)"/>
<rect x="556.2" y="117.2" width="10.4" height="2.8" fill="#c4c4c4" stroke="#555" stroke-width="0.6" />
<rect x="597.3" y="124.4" width="20.6" height="20.8" fill="url(#gBox)" stroke="#4a4a4a" stroke-width="0.8"/>
<g transform="translate(630.2 106.8) scale(0.85)"><rect x="11" y="35.6" width="25" height="3.8" fill="#5a5a5a"/><path d="M13 39.4h4l1 1.6h-6z M28 39.4h6l1 1.6h-8z" fill="#5a5a5a"/><rect x="0" y="27.6" width="26.5" height="8.6" fill="url(#gH)" stroke="#4a4a4a" stroke-width="0.8"/><rect x="4" y="24.6" width="21" height="3" fill="#c4c4c4" stroke="#5a5a5a" stroke-width="0.6"/><rect x="8.6" y="11" width="16.2" height="13" fill="url(#gH)" stroke="#4a4a4a" stroke-width="0.8"/><rect x="2" y="10.2" width="6.8" height="14.6" fill="url(#gH)" stroke="#4a4a4a" stroke-width="0.8"/><path d="M25 28h11v5l-3 3.5h-8z" fill="#8a8a8a" stroke="#4a4a4a" stroke-width="0.7"/><rect x="24.6" y="0" width="3.6" height="28.5" fill="#b4b4b4" stroke="#4a4a4a" stroke-width="0.8"/><rect x="25.6" y="2.3" width="1.5" height="1.4" fill="#f2f2f2"/><rect x="25.6" y="6.8" width="1.5" height="1.4" fill="#f2f2f2"/><rect x="25.6" y="11.3" width="1.5" height="1.4" fill="#f2f2f2"/><rect x="25.6" y="15.8" width="1.5" height="1.4" fill="#f2f2f2"/><rect x="25.6" y="20.3" width="1.5" height="1.4" fill="#f2f2f2"/><rect x="25.6" y="24.8" width="1.5" height="1.4" fill="#f2f2f2"/><rect x="28.2" y="0" width="8.6" height="10.2" fill="url(#gH)" stroke="#4a4a4a" stroke-width="0.8"/><rect x="28.2" y="10.8" width="8.6" height="6.4" fill="url(#gH)" stroke="#4a4a4a" stroke-width="0.7"/><rect x="28.2" y="17.6" width="8.6" height="10.8" fill="url(#gH)" stroke="#4a4a4a" stroke-width="0.7"/></g>
<rect x="538.4" y="151.4" width="120" height="14.9" rx="7" fill="url(#gBtn)" stroke="#b4b4b4" stroke-width="0.9"/>
<path d="M545.40 154.00L552.80 158.80L545.40 163.60Z" fill="#3d9210" stroke="#5aa832" stroke-width="0.7" stroke-linejoin="round"/>
<text x="556.80" y="159.60" font-family="Liberation Sans, sans-serif" font-weight="bold" font-size="7.70" fill="#1e1e1e" stroke="#1e1e1e" stroke-width="0.25" textLength="96.5" lengthAdjust="spacingAndGlyphs">ROLLOVER TO PLAY</text>
<rect x="2.5" y="203.5" width="232" height="179" fill="#eeeeee" stroke="#adadad" stroke-width="1"/>
<rect x="-1.5" y="200.5" width="5.5" height="5.5" fill="#fff" stroke="#444" stroke-width="1"/>
<text x="175.6" y="246.4" font-family="Liberation Serif, serif" font-size="28.5" fill="#bc1a26" stroke="#bc1a26" stroke-width="0.3" textLength="43.3" lengthAdjust="spacingAndGlyphs">RHG</text>
<linearGradient id="gChim" x1="0" y1="0" x2="1" y2="0"><stop offset="0" stop-color="#858585"/><stop offset="0.6" stop-color="#b6b6b6"/><stop offset="1" stop-color="#9c9c9c"/></linearGradient>
<rect x="74.8" y="236" width="18.8" height="36" fill="url(#gChim)" stroke="#4a4a4a" stroke-width="0.8" />
<path d="M93 243.2L128 263" fill="none" stroke="#5a5a5a" stroke-width="7.8" stroke-linecap="butt" stroke-linejoin="round"/>
<path d="M93 243.2L128 263" fill="none" stroke="#8c8c8c" stroke-width="6.6" stroke-linecap="butt" stroke-linejoin="round"/>
<path d="M93 243.2L128 263" fill="none" stroke="#adadad" stroke-width="2.51" stroke-linecap="butt" stroke-linejoin="round" transform="translate(0.00 0.00)"/>
<path d="M133.1 274V327" fill="none" stroke="#5a5a5a" stroke-width="8.0" stroke-linecap="butt" stroke-linejoin="round"/>
<path d="M133.1 274V327" fill="none" stroke="#8c8c8c" stroke-width="6.8" stroke-linecap="butt" stroke-linejoin="round"/>
<path d="M133.1 274V327" fill="none" stroke="#adadad" stroke-width="2.58" stroke-linecap="butt" stroke-linejoin="round" transform="translate(-1.09 0.00)"/>
<path d="M143 337.1H158" fill="none" stroke="#5a5a5a" stroke-width="7.6000000000000005" stroke-linecap="butt" stroke-linejoin="round"/>
<path d="M143 337.1H158" fill="none" stroke="#8c8c8c" stroke-width="6.4" stroke-linecap="butt" stroke-linejoin="round"/>
<path d="M143 337.1H158" fill="none" stroke="#adadad" stroke-width="2.43" stroke-linecap="butt" stroke-linejoin="round" transform="translate(0.00 -1.02)"/>
<path d="M125.5 261.6Q133.3 266 133.3 275" fill="none" stroke="#5a5a5a" stroke-width="9.6" stroke-linecap="butt" stroke-linejoin="round"/>
<path d="M125.5 261.6Q133.3 266 133.3 275" fill="none" stroke="#8c8c8c" stroke-width="8.4" stroke-linecap="butt" stroke-linejoin="round"/>
<path d="M125.5 261.6Q133.3 266 133.3 275" fill="none" stroke="#adadad" stroke-width="3.19" stroke-linecap="butt" stroke-linejoin="round" transform="translate(0.00 0.00)"/>
<path d="M133.1 326A10.900000000000006 11.100000000000023 0 0 0 144 337.1" fill="none" stroke="#5a5a5a" stroke-width="9.799999999999999" stroke-linecap="butt" stroke-linejoin="round"/>
<path d="M133.1 326A10.900000000000006 11.100000000000023 0 0 0 144 337.1" fill="none" stroke="#8c8c8c" stroke-width="8.6" stroke-linecap="butt" stroke-linejoin="round"/>
<path d="M133.1 326A10.900000000000006 11.100000000000023 0 0 0 144 337.1" fill="none" stroke="#9c9c9c" stroke-width="3.27" stroke-linecap="butt" stroke-linejoin="round" transform="translate(0.00 0.00)"/>
<pattern id="hatch" width="3.2" height="3.2" patternUnits="userSpaceOnUse" patternTransform="rotate(45)"><rect width="3.2" height="3.2" fill="#2c2c2c"/><path d="M0 0H3.2M0 0V3.2" stroke="#6c6c6c" stroke-width="0.9"/></pattern>
<rect x="68.2" y="213" width="31.8" height="24.2" fill="url(#hatch)" stroke="#222" stroke-width="0.8" />
<linearGradient id="gFur" x1="0" y1="0" x2="1" y2="1"><stop offset="0" stop-color="#b6b6b6"/><stop offset="0.5" stop-color="#9c9c9c"/><stop offset="1" stop-color="#848484"/></linearGradient>
<rect x="46" y="271" width="71.6" height="60.8" fill="url(#gFur)" stroke="#4a4a4a" stroke-width="0.9" />
<rect x="52.6" y="332" width="10.6" height="8.6" fill="url(#gV)" stroke="#4a4a4a" stroke-width="0.8"/>
<rect x="49.6" y="340.4" width="16.4" height="3" fill="#b4b4b4" stroke="#4a4a4a" stroke-width="0.7" />
<rect x="99.8" y="332" width="10.6" height="8.6" fill="url(#gV)" stroke="#4a4a4a" stroke-width="0.8"/>
<rect x="96.8" y="340.4" width="16.4" height="3" fill="#b4b4b4" stroke="#4a4a4a" stroke-width="0.7" />
<rect x="66.3" y="297" width="30.4" height="33.7" fill="#b8b8b8" stroke="#4a4a4a" stroke-width="0.9" />
<rect x="70" y="301" width="22.5" height="28" fill="#a2a2a2" stroke="#4a4a4a" stroke-width="0.8" />
<path d="M66 311H78V313.5H72" fill="none" stroke="#444" stroke-width="0.9"/>
<path d="M93 304V309M93 318V323" stroke="#444" stroke-width="1.2"/>
<g transform="translate(112 253.6) rotate(30)"><path d="M-4.5 0H1.5" stroke="#2a2a2a" stroke-width="1.15"/><path d="M4.5 0L0.5 -1.8L0.5 1.8Z" fill="#1a1a1a"/></g>
<g transform="translate(133.3 292) rotate(270)"><path d="M-4.5 0H1.5" stroke="#2a2a2a" stroke-width="1.15"/><path d="M4.5 0L0.5 -1.8L0.5 1.8Z" fill="#1a1a1a"/></g>
<g transform="translate(168.9 303.2) rotate(90)"><path d="M-4.5 0H1.5" stroke="#2a2a2a" stroke-width="1.15"/><path d="M4.5 0L0.5 -1.8L0.5 1.8Z" fill="#1a1a1a"/></g>
<g transform="translate(40.5 337) rotate(-42)"><path d="M-5.0 0H2.0" stroke="#2a2a2a" stroke-width="1.15"/><path d="M5.0 0L1.0 -1.8L1.0 1.8Z" fill="#1a1a1a"/></g>
<g transform="translate(157.5 304.4) scale(1.0)"><rect x="11" y="35.6" width="25" height="3.8" fill="#5a5a5a"/><path d="M13 39.4h4l1 1.6h-6z M28 39.4h6l1 1.6h-8z" fill="#5a5a5a"/><rect x="0" y="27.6" width="26.5" height="8.6" fill="url(#gH)" stroke="#4a4a4a" stroke-width="0.8"/><rect x="4" y="24.6" width="21" height="3" fill="#c4c4c4" stroke="#5a5a5a" stroke-width="0.6"/><rect x="8.6" y="11" width="16.2" height="13" fill="url(#gH)" stroke="#4a4a4a" stroke-width="0.8"/><rect x="2" y="10.2" width="6.8" height="14.6" fill="url(#gH)" stroke="#4a4a4a" stroke-width="0.8"/><path d="M25 28h11v5l-3 3.5h-8z" fill="#8a8a8a" stroke="#4a4a4a" stroke-width="0.7"/><rect x="24.6" y="0" width="3.6" height="28.5" fill="#b4b4b4" stroke="#4a4a4a" stroke-width="0.8"/><rect x="25.6" y="2.3" width="1.5" height="1.4" fill="#f2f2f2"/><rect x="25.6" y="6.8" width="1.5" height="1.4" fill="#f2f2f2"/><rect x="25.6" y="11.3" width="1.5" height="1.4" fill="#f2f2f2"/><rect x="25.6" y="15.8" width="1.5" height="1.4" fill="#f2f2f2"/><rect x="25.6" y="20.3" width="1.5" height="1.4" fill="#f2f2f2"/><rect x="25.6" y="24.8" width="1.5" height="1.4" fill="#f2f2f2"/><rect x="28.2" y="0" width="8.6" height="10.2" fill="url(#gH)" stroke="#4a4a4a" stroke-width="0.8"/><rect x="28.2" y="10.8" width="8.6" height="6.4" fill="url(#gH)" stroke="#4a4a4a" stroke-width="0.7"/><rect x="28.2" y="17.6" width="8.6" height="10.8" fill="url(#gH)" stroke="#4a4a4a" stroke-width="0.7"/></g>
<rect x="52.4" y="355.4" width="120" height="14.9" rx="7" fill="url(#gBtn)" stroke="#b4b4b4" stroke-width="0.9"/>
<path d="M59.40 358.00L66.80 362.80L59.40 367.60Z" fill="#3d9210" stroke="#5aa832" stroke-width="0.7" stroke-linejoin="round"/>
<text x="70.80" y="363.60" font-family="Liberation Sans, sans-serif" font-weight="bold" font-size="7.70" fill="#1e1e1e" stroke="#1e1e1e" stroke-width="0.25" textLength="96.5" lengthAdjust="spacingAndGlyphs">ROLLOVER TO PLAY</text>
<rect x="246" y="203" width="233" height="180" fill="#eeeeee"/>
<text x="423.4" y="243.6" font-family="Liberation Serif, serif" font-size="28.5" fill="#bc1a26" stroke="#bc1a26" stroke-width="0.3" textLength="42.7" lengthAdjust="spacingAndGlyphs">RHG</text>
<linearGradient id="gTeal" x1="0" y1="0" x2="1" y2="0"><stop offset="0" stop-color="#86bcc0" stop-opacity="0"/><stop offset="0.055" stop-color="#86bcc0"/><stop offset="0.84" stop-color="#88bec2"/><stop offset="1" stop-color="#b8dcdc" stop-opacity="0"/></linearGradient>
<path d="M257 243.2H325Q337 243.4 342.3 251H422V285H309.4V289.4H257Z" fill="url(#gTeal)"/>
<path d="M255.8 243.2H325Q337 243.4 342.3 251" fill="none" stroke="#0c1824" stroke-width="1.3"/>
<path d="M318 251H433" stroke="#0c1824" stroke-width="1.3"/>
<path d="M255.8 289.4H306.5" stroke="#0c1824" stroke-width="1.3"/>
<path d="M309.4 285.1H427" stroke="#0c1824" stroke-width="1.3"/>
<path d="M323.7 241.8H325.9V251H323.7Z" fill="#dfeeee" stroke="#345" stroke-width="0.5"/>
<path d="M267 251L251 279M386 254L370.5 280" stroke="#5a7a7a" stroke-width="0.7"/>
<linearGradient id="gFun" x1="0" y1="0" x2="1" y2="0"><stop offset="0" stop-color="#7a7a7a"/><stop offset="0.45" stop-color="#bcbcbc"/><stop offset="1" stop-color="#7e7e7e"/></linearGradient>
<path d="M304 293.8H338.8L332.4 300V321.3H311.4V300Z" fill="url(#gFun)" stroke="#444" stroke-width="0.9"/>
<path d="M304 293.8H338.8" stroke="#333" stroke-width="1.5"/>
<rect x="332.4" y="311" width="63" height="8.6" fill="url(#gH)" stroke="#555" stroke-width="0.6"/>
<path d="M306 289.4Q316 290 317.5 302L318 308L320.5 305L322 308.5L324 304.5L326.5 305.5Q326 290 320.4 285.3Z" fill="#7ab4c2" stroke="#1f4f66" stroke-width="0.7"/>
<path d="M315.5 275.2L318.8 275.2L318.6 285H315.6Z" fill="#dfeeee" stroke="#345" stroke-width="0.5"/>
<linearGradient id="gTank" x1="0" y1="0" x2="1" y2="0"><stop offset="0" stop-color="#868686"/><stop offset="0.5" stop-color="#c2c2c2"/><stop offset="1" stop-color="#8a8a8a"/></linearGradient>
<linearGradient id="gTankT" x1="0" y1="0" x2="0" y2="1"><stop offset="0" stop-color="#777" stop-opacity="0.55"/><stop offset="0.3" stop-color="#777" stop-opacity="0"/><stop offset="0.85" stop-color="#777" stop-opacity="0"/><stop offset="1" stop-color="#777" stop-opacity="0.4"/></linearGradient>
<rect x="395.2" y="296.3" width="35.4" height="53.2" fill="url(#gTank)" stroke="#5e5e5e" stroke-width="1.4" />
<rect x="395.9" y="297" width="34" height="51.8" fill="url(#gTankT)" stroke="none" stroke-width="1" />
<path d="M397 306.6H429" stroke="#555" stroke-width="0.8" stroke-dasharray="3 1.5"/>
<path d="M397.6 346.2Q398 341 401.5 339.5Q404 336.5 408 337.4Q413 335.4 418 336.8Q423 336.4 424.5 340Q427.4 342.6 426.6 346.2Z" fill="#86c8d6" stroke="#1f5f74" stroke-width="0.8"/>
<path d="M401 342Q406 340 411 341.5Q417 343.5 423 341.5" fill="none" stroke="#3f8ca4" stroke-width="0.7"/>
<g transform="translate(432 268.8) scale(0.98)"><rect x="11" y="35.6" width="25" height="3.8" fill="#5a5a5a"/><path d="M13 39.4h4l1 1.6h-6z M28 39.4h6l1 1.6h-8z" fill="#5a5a5a"/><rect x="0" y="27.6" width="26.5" height="8.6" fill="url(#gH)" stroke="#4a4a4a" stroke-width="0.8"/><rect x="4" y="24.6" width="21" height="3" fill="#c4c4c4" stroke="#5a5a5a" stroke-width="0.6"/><rect x="8.6" y="11" width="16.2" height="13" fill="url(#gH)" stroke="#4a4a4a" stroke-width="0.8"/><rect x="2" y="10.2" width="6.8" height="14.6" fill="url(#gH)" stroke="#4a4a4a" stroke-width="0.8"/><path d="M25 28h11v5l-3 3.5h-8z" fill="#8a8a8a" stroke="#4a4a4a" stroke-width="0.7"/><rect x="24.6" y="0" width="3.6" height="28.5" fill="#b4b4b4" stroke="#4a4a4a" stroke-width="0.8"/><rect x="25.6" y="2.3" width="1.5" height="1.4" fill="#f2f2f2"/><rect x="25.6" y="6.8" width="1.5" height="1.4" fill="#f2f2f2"/><rect x="25.6" y="11.3" width="1.5" height="1.4" fill="#f2f2f2"/><rect x="25.6" y="15.8" width="1.5" height="1.4" fill="#f2f2f2"/><rect x="25.6" y="20.3" width="1.5" height="1.4" fill="#f2f2f2"/><rect x="25.6" y="24.8" width="1.5" height="1.4" fill="#f2f2f2"/><rect x="28.2" y="0" width="8.6" height="10.2" fill="url(#gH)" stroke="#4a4a4a" stroke-width="0.8"/><rect x="28.2" y="10.8" width="8.6" height="6.4" fill="url(#gH)" stroke="#4a4a4a" stroke-width="0.7"/><rect x="28.2" y="17.6" width="8.6" height="10.8" fill="url(#gH)" stroke="#4a4a4a" stroke-width="0.7"/></g>
<path d="M452 202.5Q472 203.5 476 214Q479.2 224 479.4 242V202.5Z" fill="#fff"/>
<path d="M469 221Q472.5 228 472 239" fill="none" stroke="#fff" stroke-width="2.5" opacity="0.6" stroke-linecap="round"/>
<rect x="296.4" y="355.4" width="120" height="14.9" rx="7" fill="url(#gBtn)" stroke="#b4b4b4" stroke-width="0.9"/>
<path d="M303.40 358.00L310.80 362.80L303.40 367.60Z" fill="#3d9210" stroke="#5aa832" stroke-width="0.7" stroke-linejoin="round"/>
<text x="314.80" y="363.60" font-family="Liberation Sans, sans-serif" font-weight="bold" font-size="7.70" fill="#1e1e1e" stroke="#1e1e1e" stroke-width="0.25" textLength="96.5" lengthAdjust="spacingAndGlyphs">ROLLOVER TO PLAY</text>
<rect x="490.5" y="203.5" width="232" height="179" fill="#eeeeee" stroke="#adadad" stroke-width="1"/>
<rect x="717.0" y="200.5" width="5.5" height="5.5" fill="#fff" stroke="#444" stroke-width="1"/>
<text x="661.2" y="238.4" font-family="Liberation Serif, serif" font-size="28" fill="#bc1a26" stroke="#bc1a26" stroke-width="0.3" textLength="43.1" lengthAdjust="spacingAndGlyphs">RHG</text>
<linearGradient id="gMach" x1="0" y1="0" x2="1" y2="0"><stop offset="0" stop-color="#323232"/><stop offset="1" stop-color="#525252"/></linearGradient>
<path d="M527.5 225.5H585.5Q588.5 225.5 590 229L604.5 262V345.5L562 371V252H521.7V231.5Q521.7 225.5 527.5 225.5Z" fill="url(#gMach)"/>
<path d="M546 228.5H586L589 233H550Q546 233 546 237Z" fill="#555" opacity="0.7"/>
<path d="M560 300V257Q560 250.7 566.5 250.7H571.5Q577.7 250.7 577.7 257V300Z" fill="#222"/>
<path d="M577.7 256V300" fill="none" stroke="#5a5a5a" stroke-width="0.6"/>
<path d="M527.5 225.5H540Q546 225.5 546 231.5V252H521.7V231.5Q521.7 225.5 527.5 225.5Z" fill="#2e2e2e"/>
<path d="M534.4 252H549.7V287L546.5 295H540.5L534.4 287Z" fill="url(#gV)" stroke="#555" stroke-width="0.6"/>
<path d="M507 304L528 297.8L585.4 301.6L561 310.5Z" fill="#c4c4c4" stroke="#777" stroke-width="0.6"/>
<path d="M507 304L561 310.5V314.5L507 308Z" fill="#8a8a8a"/>
<path d="M561 310.5L585.4 301.6V305.4L561 314.5Z" fill="#6a6a6a"/>
<linearGradient id="gCab" x1="0" y1="0" x2="0" y2="1"><stop offset="0" stop-color="#222"/><stop offset="0.6" stop-color="#2c2c2c"/><stop offset="1" stop-color="#3c3c3c"/></linearGradient>
<path d="M510.7 308.4L561.5 314.5V371L510.9 364.3Z" fill="url(#gCab)"/>
<path d="M561.5 314.5L600 300V348L561.5 371Z" fill="#363636"/>
<path d="M510.9 364.3L561.5 371L603.5 346.5" fill="none" stroke="#1a1a1a" stroke-width="1"/>
<path d="M521 311.8L551 315.6Q554 316 554 319V329.5Q554 332.6 551 332.4L521 330Q518 329.7 518 326.7V314.6Q518 311.5 521 311.8Z" fill="#1a1a1a" stroke="#8e8e8e" stroke-width="1.2"/>
<circle cx="535.6" cy="322" r="5" fill="#555" stroke="#b4b4b4" stroke-width="1.2"/><circle cx="535.6" cy="322" r="1.6" fill="#ccc"/>
<path d="M539.8 320L549 317" stroke="#999" stroke-width="1.4"/>
<path d="M519 361.6L527.8 362.8V364.4L519 363.2Z" fill="#9a9a9a"/>
<path d="M529.3 300L537.5 297H559.1L551 301Z" fill="#f0b83a" stroke="#8a5a10" stroke-width="0.6"/>
<path d="M529.3 300H551V304.8H529.3Z" fill="#d9962a" stroke="#8a5a10" stroke-width="0.6"/><path d="M551 301L559.1 297V301.2L551 304.8Z" fill="#b87a1c" stroke="#8a5a10" stroke-width="0.5"/>
<path d="M551.5 295V238.5Q551.5 230.8 559 230.8H621Q628.5 230.8 628.5 238.5V292.5Q628.5 300.5 636 300.5H657" fill="none" stroke="#4e4e4e" stroke-width="4.6"/>
<path d="M551.5 295V238.5Q551.5 230.8 559 230.8H621Q628.5 230.8 628.5 238.5V292.5Q628.5 300.5 636 300.5H657" fill="none" stroke="#b4b4b4" stroke-width="2.6"/>
<path d="M546 296L549 300L552 296" fill="none" stroke="#ccc" stroke-width="0.8"/>
<g transform="translate(599.5 225) rotate(180)"><path d="M-5.5 0H2.5" stroke="#2a2a2a" stroke-width="1.15"/><path d="M5.5 0L1.5 -1.8L1.5 1.8Z" fill="#1a1a1a"/></g>
<g transform="translate(633 262) rotate(270)"><path d="M-5.5 0H2.5" stroke="#2a2a2a" stroke-width="1.15"/><path d="M5.5 0L1.5 -1.8L1.5 1.8Z" fill="#1a1a1a"/></g>
<g transform="translate(666.6 313) rotate(-100)"><path d="M-5.5 0H2.5" stroke="#2a2a2a" stroke-width="1.15"/><path d="M5.5 0L1.5 -1.8L1.5 1.8Z" fill="#1a1a1a"/></g>
<g transform="translate(525 285.5) rotate(45)"><path d="M-6.0 0H3.0" stroke="#2a2a2a" stroke-width="1.15"/><path d="M6.0 0L2.0 -1.8L2.0 1.8Z" fill="#1a1a1a"/></g>
<g transform="translate(656 268.2) scale(1.0)"><rect x="11" y="35.6" width="25" height="3.8" fill="#5a5a5a"/><path d="M13 39.4h4l1 1.6h-6z M28 39.4h6l1 1.6h-8z" fill="#5a5a5a"/><rect x="0" y="27.6" width="26.5" height="8.6" fill="url(#gH)" stroke="#4a4a4a" stroke-width="0.8"/><rect x="4" y="24.6" width="21" height="3" fill="#c4c4c4" stroke="#5a5a5a" stroke-width="0.6"/><rect x="8.6" y="11" width="16.2" height="13" fill="url(#gH)" stroke="#4a4a4a" stroke-width="0.8"/><rect x="2" y="10.2" width="6.8" height="14.6" fill="url(#gH)" stroke="#4a4a4a" stroke-width="0.8"/><path d="M25 28h11v5l-3 3.5h-8z" fill="#8a8a8a" stroke="#4a4a4a" stroke-width="0.7"/><rect x="24.6" y="0" width="3.6" height="28.5" fill="#b4b4b4" stroke="#4a4a4a" stroke-width="0.8"/><rect x="25.6" y="2.3" width="1.5" height="1.4" fill="#f2f2f2"/><rect x="25.6" y="6.8" width="1.5" height="1.4" fill="#f2f2f2"/><rect x="25.6" y="11.3" width="1.5" height="1.4" fill="#f2f2f2"/><rect x="25.6" y="15.8" width="1.5" height="1.4" fill="#f2f2f2"/><rect x="25.6" y="20.3" width="1.5" height="1.4" fill="#f2f2f2"/><rect x="25.6" y="24.8" width="1.5" height="1.4" fill="#f2f2f2"/><rect x="28.2" y="0" width="8.6" height="10.2" fill="url(#gH)" stroke="#4a4a4a" stroke-width="0.8"/><rect x="28.2" y="10.8" width="8.6" height="6.4" fill="url(#gH)" stroke="#4a4a4a" stroke-width="0.7"/><rect x="28.2" y="17.6" width="8.6" height="10.8" fill="url(#gH)" stroke="#4a4a4a" stroke-width="0.7"/></g>
<rect x="540.4" y="355.4" width="120" height="14.9" rx="7" fill="url(#gBtn)" stroke="#b4b4b4" stroke-width="0.9"/>
<path d="M547.40 358.00L554.80 362.80L547.40 367.60Z" fill="#3d9210" stroke="#5aa832" stroke-width="0.7" stroke-linejoin="round"/>
<text x="558.80" y="363.60" font-family="Liberation Sans, sans-serif" font-weight="bold" font-size="7.70" fill="#1e1e1e" stroke="#1e1e1e" stroke-width="0.25" textLength="96.5" lengthAdjust="spacingAndGlyphs">ROLLOVER TO PLAY</text>
<rect x="2" y="404" width="233" height="179" fill="#d6d6d6"/>
<path d="M2.5 404V582.5H234.5V404" fill="none" stroke="#9c9c9c" stroke-width="1"/>
<rect x="-1.5" y="404.5" width="5.5" height="5.5" fill="#fff" stroke="#444" stroke-width="1"/>
<text x="170.6" y="435.8" font-family="Liberation Serif, serif" font-size="26" fill="#bc1a26" stroke="#bc1a26" stroke-width="0.3" textLength="39.9" lengthAdjust="spacingAndGlyphs">RHG</text>
<path d="M3.5 411V582" stroke="#f0f0f0" stroke-width="1"/>
<linearGradient id="gRod" x1="0" y1="0" x2="0.35" y2="1"><stop offset="0" stop-color="#6a6a6a"/><stop offset="0.4" stop-color="#a8a8a8"/><stop offset="1" stop-color="#5a5a5a"/></linearGradient>
<path d="M63 471.2L82 477.5L79 491L59.5 483.5Q56.5 480 57.5 476Q59 471.5 63 471.2Z" fill="url(#gRod)" stroke="#444" stroke-width="0.8"/>
<path d="M146 503L152 505.2L166 510.5L161.5 524.5L142 517Z" fill="url(#gRod)" stroke="#444" stroke-width="0.8"/>
<ellipse cx="163.8" cy="517.4" rx="4.8" ry="7" transform="rotate(-18 163.8 517.4)" fill="#484848" stroke="#333" stroke-width="0.8"/>
<path d="M22.5 504.6L48 512.8Q60 514 68 502L88 498Q90 512 82 520L118 548L126 527H146L139 553Q150 562 170 572V577H141L118 575L36.4 535.2L16.7 526.7Z" fill="#a6a6a6" stroke="#4a4a4a" stroke-width="0.9"/>
<path d="M20.3 512.3L40.6 521.7L102.7 547L118.7 550" fill="none" stroke="#555" stroke-width="0.8"/>
<path d="M96 532L127 528V553L100 556Z" fill="#a6a6a6"/>
<path d="M66 500Q66 514 50 514L84 522Q90 512 88 498Z" fill="#b8b8b8" stroke="#555" stroke-width="0.7"/>
<ellipse cx="77" cy="500" rx="9" ry="4.2" fill="#7c7c7c" stroke="#444" stroke-width="0.9"/>
<linearGradient id="gTube" x1="0" y1="0" x2="1" y2="0"><stop offset="0" stop-color="#9a9a9a"/><stop offset="0.45" stop-color="#c8c8c8"/><stop offset="1" stop-color="#9c9c9c"/></linearGradient>
<path d="M125.3 527C126 541 119 547 103 551L118 575Q140 580 169 577L170 572.5Q146 566 142.5 552Q142 540 146.2 527Z" fill="url(#gTube)" stroke="#4a4a4a" stroke-width="0.9"/>
<ellipse cx="135.8" cy="526.8" rx="10.4" ry="5" fill="#7c7c7c" stroke="#444" stroke-width="0.9"/>
<path d="M68.5 527L107 545.5" stroke="#5a5a5a" stroke-width="6" stroke-linecap="round"/><path d="M68.5 526.6L107 545" stroke="#b8b8b8" stroke-width="3.8" stroke-linecap="round"/>
<linearGradient id="gSheet" gradientUnits="userSpaceOnUse" x1="170" y1="455" x2="20" y2="590"><stop offset="0" stop-color="#5e9fa5" stop-opacity="0.86"/><stop offset="0.4" stop-color="#72acb0" stop-opacity="0.74"/><stop offset="0.66" stop-color="#96c4c6" stop-opacity="0.68"/><stop offset="0.82" stop-color="#d0e8e8" stop-opacity="0.8"/><stop offset="1" stop-color="#8cbcbe" stop-opacity="0.78"/></linearGradient>
<path d="M93 464L187.4 465L79 582.5H2.5V577L43.5 533Z" fill="url(#gSheet)" stroke="#16343a" stroke-width="0.9"/>
<path d="M84 520L108 528" stroke="#5a8a90" stroke-width="0.7"/>
<path d="M95 465Q82 478 77.5 499" fill="none" stroke="#235a66" stroke-width="9.4"/><path d="M95 465Q82 478 77.5 499" fill="none" stroke="#a2cfd8" stroke-width="7.8"/>
<path d="M148 494Q140 508 138.6 526" fill="none" stroke="#235a66" stroke-width="9.4"/><path d="M148 494Q140 508 138.6 526" fill="none" stroke="#a2cfd8" stroke-width="7.8"/>
<path d="M92.6 465L96.6 465L96 474.5L92 474.5Z" fill="#d4e6e8" fill-opacity="0.75" stroke="#345" stroke-width="0.6"/>
<path d="M145.6 489.2L149.9 489.2L149.2 497.8L145 497.8Z" fill="#d4e6e8" fill-opacity="0.75" stroke="#345" stroke-width="0.6"/>
<rect x="168" y="564" width="20" height="4" fill="#9a9a9a" stroke="#444" stroke-width="0.6" />
<g transform="translate(187.3 534) scale(0.96)"><rect x="11" y="35.6" width="25" height="3.8" fill="#5a5a5a"/><path d="M13 39.4h4l1 1.6h-6z M28 39.4h6l1 1.6h-8z" fill="#5a5a5a"/><rect x="0" y="27.6" width="26.5" height="8.6" fill="url(#gH)" stroke="#4a4a4a" stroke-width="0.8"/><rect x="4" y="24.6" width="21" height="3" fill="#c4c4c4" stroke="#5a5a5a" stroke-width="0.6"/><rect x="8.6" y="11" width="16.2" height="13" fill="url(#gH)" stroke="#4a4a4a" stroke-width="0.8"/><rect x="2" y="10.2" width="6.8" height="14.6" fill="url(#gH)" stroke="#4a4a4a" stroke-width="0.8"/><path d="M25 28h11v5l-3 3.5h-8z" fill="#8a8a8a" stroke="#4a4a4a" stroke-width="0.7"/><rect x="24.6" y="0" width="3.6" height="28.5" fill="#b4b4b4" stroke="#4a4a4a" stroke-width="0.8"/><rect x="25.6" y="2.3" width="1.5" height="1.4" fill="#f2f2f2"/><rect x="25.6" y="6.8" width="1.5" height="1.4" fill="#f2f2f2"/><rect x="25.6" y="11.3" width="1.5" height="1.4" fill="#f2f2f2"/><rect x="25.6" y="15.8" width="1.5" height="1.4" fill="#f2f2f2"/><rect x="25.6" y="20.3" width="1.5" height="1.4" fill="#f2f2f2"/><rect x="25.6" y="24.8" width="1.5" height="1.4" fill="#f2f2f2"/><rect x="28.2" y="0" width="8.6" height="10.2" fill="url(#gH)" stroke="#4a4a4a" stroke-width="0.8"/><rect x="28.2" y="10.8" width="8.6" height="6.4" fill="url(#gH)" stroke="#4a4a4a" stroke-width="0.7"/><rect x="28.2" y="17.6" width="8.6" height="10.8" fill="url(#gH)" stroke="#4a4a4a" stroke-width="0.7"/></g>
<rect x="50.8" y="555.4" width="123.8" height="15.1" rx="7" fill="url(#gBtn)" stroke="#b4b4b4" stroke-width="0.9"/>
<path d="M58.02 558.08L65.66 563.03L58.02 567.99Z" fill="#3d9210" stroke="#5aa832" stroke-width="0.7" stroke-linejoin="round"/>
<text x="69.78" y="563.86" font-family="Liberation Sans, sans-serif" font-weight="bold" font-size="7.94" fill="#1e1e1e" stroke="#1e1e1e" stroke-width="0.25" textLength="99.6" lengthAdjust="spacingAndGlyphs">ROLLOVER TO PLAY</text>
<rect x="246" y="404" width="233" height="179" fill="#eeeeee"/>
<path d="M246.5 404V582.5H478.5V404" fill="none" stroke="#a4a4a4" stroke-width="1"/>
<rect x="358.0" y="404.7" width="5.5" height="5.5" fill="#fff" stroke="#444" stroke-width="1"/>
<text x="429.2" y="435.8" font-family="Liberation Serif, serif" font-size="28.8" fill="#bc1a26" stroke="#bc1a26" stroke-width="0.3" textLength="43.3" lengthAdjust="spacingAndGlyphs">RHG</text>
<linearGradient id="gHop" x1="0" y1="0" x2="0" y2="1"><stop offset="0" stop-color="#858585"/><stop offset="0.5" stop-color="#b0b0b0"/><stop offset="1" stop-color="#d4d4d4"/></linearGradient>
<linearGradient id="gP8a" x1="0" y1="0" x2="0" y2="1"><stop offset="0" stop-color="#5e5e5e"/><stop offset="0.5" stop-color="#8c8c8c"/><stop offset="1" stop-color="#b0b0b0"/></linearGradient>
<linearGradient id="gP8" x1="0" y1="0" x2="0" y2="1"><stop offset="0" stop-color="#585858"/><stop offset="0.5" stop-color="#8a8a8a"/><stop offset="1" stop-color="#bcbcbc"/></linearGradient>
<rect x="326.4" y="527.3" width="58.5" height="10.2" fill="url(#gP8a)" stroke="#333" stroke-width="0.9" />
<rect x="389" y="522.2" width="89.2" height="15.3" fill="url(#gP8)" stroke="#333" stroke-width="0.9" />
<linearGradient id="gP8e" x1="0" y1="0" x2="1" y2="0"><stop offset="0" stop-color="#c8c8c8" stop-opacity="0"/><stop offset="1" stop-color="#c8c8c8" stop-opacity="0.8"/></linearGradient>
<rect x="470" y="522.6" width="8" height="14.5" fill="url(#gP8e)" stroke="none" stroke-width="1" />
<linearGradient id="gCh" x1="0" y1="0" x2="0" y2="1"><stop offset="0" stop-color="#565656"/><stop offset="0.5" stop-color="#7c7c7c"/><stop offset="1" stop-color="#b4b4b4"/></linearGradient>
<path d="M369.5 509.3H386.5L394.4 522.6L400 522.6V537H385.5L383.3 533.3Z" fill="url(#gCh)"/>
<path d="M318.4 417.1H418.9V465.6L377.8 488.9L385.6 507.5H368.7L361.1 492.2L318.4 465.6Z" fill="url(#gHop)"/>
<path d="M383.3 533.3L361.1 492.2L318.4 465.6V417.1H418.9V465.6L377.8 488.9L386.5 509.3L394.4 521.8" fill="none" stroke="#333" stroke-width="0.9"/>
<g fill="#f6f6f6" opacity="0.9"><circle cx="363.9" cy="472.3" r="1.2"/><circle cx="369.3" cy="474.6" r="1.3"/><circle cx="329.1" cy="451.6" r="1.5"/><circle cx="383.4" cy="476.9" r="0.8"/><circle cx="371.3" cy="431.8" r="1.0"/><circle cx="322.9" cy="464.6" r="1.6"/><circle cx="370.4" cy="478.9" r="1.4"/><circle cx="364.4" cy="449.5" r="1.7"/><circle cx="350.6" cy="445.6" r="0.9"/><circle cx="394.3" cy="459.4" r="1.1"/><circle cx="408.3" cy="465.1" r="1.2"/><circle cx="395.5" cy="448.9" r="1.1"/><circle cx="331.4" cy="447.0" r="0.9"/><circle cx="331.3" cy="461.1" r="1.0"/><circle cx="340.4" cy="458.9" r="1.4"/><circle cx="351.9" cy="451.0" r="0.9"/><circle cx="376.5" cy="446.7" r="1.1"/><circle cx="366.9" cy="473.5" r="1.0"/><circle cx="399.3" cy="447.2" r="1.5"/><circle cx="378.5" cy="461.1" r="0.8"/><circle cx="377.9" cy="450.8" r="1.4"/><circle cx="346.1" cy="463.1" r="1.0"/><circle cx="355.8" cy="473.3" r="1.1"/><circle cx="383.7" cy="483.0" r="0.9"/><circle cx="381.7" cy="466.1" r="1.1"/><circle cx="373.0" cy="486.7" r="1.5"/><circle cx="408.8" cy="455.5" r="1.6"/><circle cx="404.5" cy="460.8" r="1.6"/><circle cx="375.6" cy="477.6" r="1.3"/><circle cx="390.6" cy="458.5" r="1.3"/><circle cx="366.7" cy="445.6" r="1.2"/><circle cx="379.6" cy="501.6" r="0.8"/><circle cx="349.2" cy="481.9" r="1.0"/><circle cx="351.7" cy="480.9" r="1.2"/><circle cx="405.4" cy="458.1" r="1.1"/><circle cx="333.2" cy="467.2" r="1.6"/><circle cx="346.7" cy="444.3" r="1.4"/><circle cx="367.9" cy="452.5" r="1.7"/><circle cx="363.9" cy="433.0" r="1.6"/><circle cx="375.3" cy="452.0" r="0.8"/><circle cx="333.2" cy="463.8" r="1.5"/><circle cx="343.0" cy="438.4" r="1.4"/><circle cx="363.3" cy="478.0" r="1.5"/><circle cx="339.3" cy="465.5" r="0.8"/><circle cx="365.8" cy="484.8" r="1.0"/><circle cx="353.5" cy="483.5" r="1.4"/><circle cx="393.4" cy="458.9" r="1.6"/><circle cx="380.7" cy="500.7" r="1.3"/><circle cx="411.6" cy="464.6" r="1.0"/><circle cx="382.2" cy="485.1" r="1.6"/><circle cx="372.1" cy="491.1" r="1.6"/><circle cx="403.0" cy="455.2" r="1.2"/><circle cx="373.4" cy="489.2" r="0.8"/><circle cx="396.4" cy="438.4" r="1.3"/><circle cx="382.0" cy="469.3" r="1.3"/><circle cx="350.2" cy="457.9" r="1.6"/><circle cx="375.6" cy="443.3" r="1.3"/><circle cx="374.6" cy="466.8" r="0.9"/><circle cx="372.3" cy="460.5" r="1.6"/><circle cx="346.1" cy="465.3" r="1.2"/><circle cx="366.2" cy="452.7" r="1.4"/><circle cx="351.2" cy="455.8" r="0.9"/><circle cx="362.4" cy="457.4" r="1.3"/><circle cx="381.9" cy="469.9" r="1.4"/><circle cx="350.6" cy="452.5" r="1.0"/><circle cx="400.7" cy="461.2" r="0.9"/><circle cx="359.1" cy="482.5" r="1.0"/><circle cx="369.1" cy="488.4" r="1.4"/><circle cx="373.5" cy="468.7" r="0.9"/><circle cx="412.3" cy="464.4" r="1.1"/><circle cx="365.3" cy="468.7" r="1.3"/><circle cx="391.7" cy="459.8" r="0.9"/><circle cx="381.1" cy="459.8" r="1.3"/><circle cx="399.0" cy="459.9" r="1.6"/><circle cx="394.2" cy="459.9" r="0.9"/><circle cx="353.1" cy="465.0" r="1.1"/><circle cx="382.0" cy="477.5" r="1.7"/><circle cx="384.6" cy="454.4" r="1.3"/><circle cx="371.7" cy="458.6" r="1.4"/><circle cx="379.7" cy="486.8" r="1.2"/><circle cx="356.4" cy="435.0" r="1.6"/><circle cx="373.4" cy="468.1" r="1.3"/><circle cx="335.5" cy="465.2" r="1.2"/><circle cx="360.8" cy="469.7" r="1.1"/><circle cx="347.7" cy="480.1" r="1.1"/><circle cx="389.5" cy="451.0" r="1.0"/><circle cx="393.2" cy="458.6" r="1.5"/><circle cx="407.8" cy="461.8" r="1.7"/><circle cx="343.6" cy="469.4" r="1.5"/><circle cx="399.2" cy="475.9" r="1.4"/><circle cx="364.2" cy="443.5" r="1.3"/><circle cx="332.1" cy="462.9" r="1.2"/><circle cx="345.4" cy="474.2" r="1.5"/><circle cx="371.5" cy="507.8" r="1.5"/><circle cx="380.6" cy="456.1" r="1.4"/><circle cx="374.8" cy="474.9" r="1.5"/><circle cx="346.3" cy="461.4" r="0.9"/><circle cx="372.5" cy="432.9" r="1.4"/><circle cx="373.4" cy="478.1" r="1.2"/><circle cx="340.4" cy="454.8" r="1.6"/><circle cx="394.6" cy="444.3" r="1.0"/><circle cx="398.6" cy="456.9" r="1.7"/><circle cx="351.6" cy="471.4" r="1.6"/><circle cx="361.5" cy="456.9" r="1.6"/><circle cx="374.7" cy="466.3" r="1.1"/><circle cx="387.3" cy="449.9" r="1.1"/><circle cx="390.4" cy="456.7" r="1.4"/><circle cx="375.2" cy="501.4" r="1.6"/><circle cx="362.5" cy="492.0" r="1.1"/><circle cx="406.8" cy="447.1" r="1.1"/><circle cx="355.2" cy="459.0" r="1.0"/><circle cx="374.7" cy="491.6" r="1.6"/><circle cx="405.4" cy="449.8" r="1.3"/><circle cx="372.8" cy="473.0" r="1.4"/><circle cx="373.0" cy="490.8" r="0.9"/><circle cx="383.0" cy="446.9" r="1.5"/><circle cx="370.6" cy="488.9" r="1.1"/><circle cx="367.9" cy="470.5" r="1.4"/><circle cx="408.8" cy="460.3" r="1.4"/><circle cx="370.8" cy="484.5" r="1.2"/><circle cx="416.1" cy="457.4" r="1.0"/><circle cx="361.2" cy="450.7" r="0.9"/><circle cx="395.3" cy="441.5" r="1.2"/><circle cx="376.7" cy="500.7" r="0.9"/><circle cx="337.9" cy="444.6" r="1.4"/><circle cx="377.7" cy="445.1" r="1.1"/><circle cx="350.2" cy="471.4" r="1.2"/><circle cx="408.7" cy="454.7" r="1.7"/><circle cx="366.8" cy="444.9" r="1.7"/><circle cx="397.7" cy="458.2" r="1.3"/><circle cx="383.8" cy="446.2" r="1.2"/><circle cx="389.2" cy="476.1" r="0.9"/><circle cx="370.1" cy="478.6" r="1.0"/><circle cx="329.4" cy="465.9" r="1.7"/><circle cx="376.9" cy="496.4" r="1.5"/><circle cx="340.2" cy="471.0" r="0.9"/><circle cx="400.7" cy="452.2" r="0.9"/><circle cx="349.7" cy="464.8" r="1.1"/><circle cx="343.0" cy="472.7" r="0.8"/><circle cx="340.1" cy="476.9" r="1.1"/><circle cx="372.4" cy="451.2" r="1.2"/><circle cx="384.7" cy="447.8" r="1.5"/><circle cx="374.6" cy="485.6" r="1.5"/><circle cx="388.7" cy="441.6" r="1.6"/><circle cx="377.5" cy="434.3" r="0.9"/><circle cx="332.0" cy="460.0" r="1.6"/><circle cx="361.4" cy="468.4" r="1.5"/><circle cx="399.6" cy="458.3" r="1.2"/><circle cx="384.0" cy="476.3" r="1.1"/><circle cx="353.2" cy="479.7" r="1.1"/><circle cx="369.4" cy="490.9" r="1.4"/><circle cx="354.2" cy="467.5" r="1.4"/><circle cx="380.8" cy="443.0" r="1.0"/><circle cx="375.9" cy="483.5" r="1.6"/><circle cx="355.0" cy="464.5" r="1.7"/><circle cx="372.7" cy="472.4" r="1.0"/><circle cx="399.3" cy="475.7" r="1.5"/><circle cx="343.4" cy="473.5" r="1.0"/><circle cx="373.1" cy="433.2" r="1.0"/><circle cx="383.9" cy="451.9" r="1.5"/><circle cx="357.0" cy="474.9" r="0.8"/><circle cx="339.4" cy="464.9" r="1.1"/><circle cx="375.2" cy="441.1" r="1.0"/><circle cx="375.1" cy="453.9" r="0.8"/><circle cx="378.2" cy="465.1" r="1.4"/><circle cx="392.9" cy="466.3" r="1.6"/><circle cx="402.9" cy="460.1" r="1.3"/><circle cx="407.8" cy="469.6" r="1.2"/><circle cx="407.7" cy="453.0" r="1.5"/><circle cx="378.0" cy="487.9" r="1.3"/><circle cx="363.4" cy="467.7" r="0.8"/><circle cx="387.4" cy="469.6" r="1.1"/><circle cx="358.4" cy="446.1" r="1.6"/><circle cx="404.0" cy="461.1" r="1.0"/><circle cx="392.4" cy="472.9" r="0.9"/><circle cx="343.7" cy="451.2" r="0.9"/><circle cx="358.5" cy="455.9" r="0.8"/><circle cx="349.9" cy="467.4" r="1.7"/><circle cx="365.8" cy="443.7" r="1.6"/><circle cx="354.4" cy="465.3" r="1.6"/><circle cx="390.4" cy="452.4" r="1.6"/><circle cx="411.0" cy="463.1" r="1.0"/><circle cx="356.1" cy="480.6" r="1.3"/><circle cx="384.7" cy="449.4" r="0.9"/><circle cx="415.4" cy="462.7" r="1.3"/><circle cx="343.9" cy="449.6" r="1.0"/><circle cx="323.3" cy="464.4" r="1.1"/><circle cx="410.1" cy="467.5" r="1.3"/><circle cx="382.6" cy="456.1" r="1.5"/><circle cx="370.1" cy="468.0" r="1.4"/><circle cx="370.5" cy="504.1" r="1.5"/><circle cx="342.8" cy="462.7" r="1.5"/><circle cx="396.7" cy="446.1" r="1.0"/><circle cx="376.3" cy="467.4" r="1.3"/><circle cx="389.3" cy="473.4" r="1.0"/><circle cx="368.1" cy="462.2" r="1.0"/><circle cx="372.7" cy="491.1" r="0.9"/><circle cx="350.5" cy="477.3" r="1.0"/><circle cx="336.6" cy="447.6" r="1.4"/><circle cx="325.9" cy="460.3" r="1.0"/><circle cx="367.5" cy="488.7" r="0.9"/><circle cx="364.2" cy="487.3" r="1.0"/><circle cx="358.1" cy="451.1" r="0.9"/><circle cx="342.3" cy="447.5" r="1.0"/><circle cx="355.3" cy="454.3" r="1.3"/><circle cx="323.8" cy="459.6" r="0.9"/><circle cx="353.3" cy="483.3" r="1.3"/><circle cx="406.0" cy="464.5" r="1.6"/><circle cx="340.9" cy="455.1" r="1.3"/><circle cx="335.9" cy="443.5" r="1.2"/><circle cx="349.9" cy="463.2" r="1.4"/><circle cx="355.2" cy="449.2" r="1.0"/><circle cx="345.4" cy="458.8" r="1.4"/><circle cx="346.1" cy="456.2" r="1.6"/><circle cx="322.0" cy="453.1" r="0.9"/><circle cx="384.6" cy="438.9" r="1.1"/><circle cx="389.1" cy="459.8" r="1.6"/><circle cx="341.9" cy="450.7" r="1.0"/><circle cx="381.1" cy="472.8" r="1.7"/><circle cx="348.9" cy="481.3" r="1.0"/><circle cx="386.9" cy="481.0" r="1.6"/><circle cx="342.8" cy="478.2" r="1.2"/><circle cx="351.8" cy="467.3" r="0.9"/><circle cx="359.0" cy="465.5" r="1.4"/><circle cx="353.2" cy="461.2" r="1.3"/><circle cx="388.0" cy="471.8" r="0.8"/><circle cx="358.0" cy="456.5" r="1.2"/><circle cx="325.3" cy="467.1" r="1.2"/><circle cx="351.6" cy="447.5" r="1.1"/><circle cx="345.4" cy="481.1" r="1.2"/><circle cx="379.7" cy="504.3" r="1.3"/><circle cx="380.9" cy="477.3" r="1.2"/><circle cx="369.2" cy="452.0" r="1.7"/><circle cx="386.0" cy="446.0" r="1.3"/><circle cx="358.2" cy="446.4" r="1.4"/><circle cx="373.2" cy="477.6" r="1.5"/><circle cx="414.0" cy="454.0" r="1.6"/><circle cx="367.6" cy="472.7" r="1.1"/><circle cx="392.6" cy="470.3" r="1.0"/><circle cx="394.9" cy="465.9" r="1.6"/><circle cx="344.6" cy="468.1" r="1.2"/><circle cx="389.4" cy="447.4" r="1.1"/><circle cx="375.0" cy="461.1" r="1.4"/><circle cx="332.1" cy="457.5" r="1.0"/><circle cx="376.8" cy="503.2" r="0.9"/><circle cx="386.7" cy="461.0" r="1.2"/><circle cx="372.6" cy="466.1" r="1.1"/><circle cx="347.5" cy="458.7" r="1.5"/><circle cx="415.2" cy="458.5" r="1.3"/><circle cx="397.6" cy="438.9" r="0.9"/><circle cx="331.7" cy="453.2" r="1.3"/><circle cx="346.6" cy="445.4" r="1.1"/><circle cx="337.7" cy="466.2" r="1.0"/><circle cx="404.1" cy="466.2" r="1.5"/><circle cx="383.7" cy="477.5" r="1.6"/><circle cx="390.3" cy="441.2" r="1.0"/><circle cx="350.1" cy="468.7" r="1.0"/><circle cx="371.1" cy="492.6" r="1.5"/><circle cx="412.2" cy="459.6" r="1.0"/><circle cx="376.0" cy="445.4" r="1.1"/><circle cx="355.4" cy="478.7" r="1.1"/><circle cx="407.8" cy="453.1" r="1.1"/><circle cx="373.0" cy="482.1" r="0.9"/><circle cx="333.9" cy="455.4" r="0.8"/><circle cx="368.7" cy="459.7" r="1.3"/><circle cx="341.3" cy="460.1" r="1.0"/><circle cx="346.5" cy="481.9" r="1.1"/><circle cx="356.7" cy="479.2" r="1.4"/><circle cx="381.0" cy="467.9" r="0.9"/><circle cx="364.0" cy="480.9" r="1.1"/><circle cx="342.3" cy="475.7" r="1.3"/><circle cx="363.3" cy="475.1" r="1.6"/><circle cx="334.7" cy="465.0" r="1.5"/><circle cx="367.6" cy="446.0" r="1.4"/><circle cx="397.4" cy="468.4" r="0.9"/><circle cx="364.0" cy="470.4" r="1.0"/><circle cx="347.1" cy="479.1" r="1.3"/><circle cx="396.4" cy="466.8" r="1.5"/><circle cx="373.3" cy="500.4" r="0.9"/><circle cx="355.5" cy="435.1" r="1.1"/><circle cx="379.9" cy="500.0" r="1.7"/><circle cx="340.1" cy="478.0" r="1.5"/><circle cx="352.9" cy="452.5" r="1.1"/><circle cx="378.5" cy="483.3" r="0.9"/><circle cx="387.3" cy="464.8" r="0.9"/><circle cx="355.0" cy="452.1" r="0.9"/><circle cx="381.2" cy="461.4" r="1.2"/><circle cx="364.3" cy="468.0" r="1.1"/><circle cx="388.3" cy="446.0" r="1.1"/><circle cx="385.6" cy="463.8" r="1.1"/><circle cx="392.1" cy="475.7" r="0.9"/><circle cx="360.7" cy="449.8" r="1.7"/><circle cx="348.4" cy="483.3" r="1.0"/><circle cx="344.4" cy="461.1" r="1.5"/><circle cx="328.6" cy="456.5" r="1.5"/><circle cx="384.9" cy="454.9" r="1.7"/><circle cx="365.5" cy="456.3" r="1.1"/><circle cx="385.1" cy="476.0" r="1.7"/><circle cx="383.0" cy="483.8" r="0.9"/><circle cx="364.8" cy="459.5" r="1.0"/><circle cx="355.9" cy="438.6" r="1.5"/><circle cx="382.9" cy="477.5" r="1.0"/><circle cx="349.3" cy="468.1" r="1.3"/><circle cx="369.7" cy="450.8" r="1.0"/><circle cx="363.8" cy="472.2" r="1.6"/><circle cx="370.9" cy="459.9" r="1.6"/><circle cx="413.5" cy="460.5" r="0.9"/><circle cx="324.5" cy="460.7" r="1.0"/><circle cx="351.9" cy="466.6" r="1.6"/><circle cx="368.6" cy="500.2" r="1.1"/><circle cx="391.7" cy="447.9" r="1.2"/><circle cx="366.3" cy="456.0" r="1.2"/><circle cx="373.1" cy="459.4" r="0.9"/><circle cx="356.1" cy="452.5" r="1.0"/><circle cx="392.7" cy="466.5" r="1.2"/><circle cx="377.6" cy="504.8" r="1.3"/><circle cx="355.8" cy="451.4" r="1.3"/><circle cx="350.6" cy="467.3" r="1.5"/><circle cx="359.0" cy="450.1" r="0.9"/><circle cx="351.8" cy="452.7" r="1.5"/><circle cx="373.6" cy="502.1" r="0.8"/><circle cx="391.5" cy="460.9" r="1.7"/><circle cx="395.8" cy="462.7" r="1.1"/><circle cx="363.4" cy="462.4" r="1.1"/><circle cx="384.6" cy="471.4" r="0.9"/><circle cx="374.3" cy="501.7" r="1.2"/><circle cx="372.0" cy="495.0" r="1.6"/><circle cx="356.6" cy="481.6" r="1.2"/><circle cx="386.9" cy="458.4" r="0.9"/><circle cx="339.6" cy="455.0" r="1.1"/><circle cx="377.4" cy="469.1" r="1.3"/><circle cx="401.7" cy="456.0" r="1.2"/><circle cx="375.8" cy="447.8" r="1.5"/><circle cx="356.6" cy="485.0" r="1.4"/><circle cx="374.3" cy="506.0" r="1.2"/><circle cx="367.2" cy="445.7" r="0.9"/><circle cx="375.1" cy="471.7" r="0.9"/><circle cx="396.1" cy="444.7" r="1.3"/><circle cx="376.5" cy="499.9" r="1.4"/><circle cx="389.7" cy="450.6" r="1.5"/><circle cx="345.7" cy="447.2" r="1.3"/><circle cx="344.6" cy="450.7" r="0.9"/><circle cx="367.0" cy="449.1" r="1.0"/><circle cx="369.4" cy="497.8" r="1.6"/><circle cx="372.7" cy="486.4" r="1.4"/><circle cx="342.6" cy="463.7" r="1.5"/><circle cx="411.5" cy="468.0" r="1.1"/><circle cx="375.4" cy="506.6" r="1.6"/><circle cx="396.1" cy="469.2" r="1.3"/><circle cx="337.9" cy="469.7" r="1.2"/><circle cx="360.5" cy="466.4" r="1.2"/><circle cx="374.1" cy="505.8" r="0.9"/><circle cx="349.1" cy="454.2" r="1.6"/><circle cx="367.5" cy="474.8" r="1.4"/><circle cx="379.5" cy="502.6" r="1.3"/><circle cx="386.8" cy="469.1" r="1.5"/><circle cx="359.5" cy="454.2" r="0.8"/><circle cx="394.7" cy="448.2" r="1.3"/><circle cx="352.5" cy="481.7" r="1.0"/><circle cx="396.0" cy="454.0" r="1.4"/><circle cx="345.2" cy="469.3" r="1.6"/><circle cx="337.9" cy="445.8" r="1.1"/><circle cx="396.7" cy="470.7" r="1.5"/><circle cx="343.7" cy="444.6" r="1.7"/><circle cx="356.0" cy="455.9" r="1.7"/><circle cx="395.9" cy="454.4" r="1.1"/><circle cx="347.8" cy="475.1" r="1.2"/><circle cx="368.4" cy="457.8" r="1.6"/><circle cx="412.1" cy="463.8" r="0.9"/><circle cx="349.8" cy="441.8" r="1.3"/><circle cx="372.4" cy="473.0" r="1.3"/><circle cx="409.6" cy="467.8" r="1.1"/><circle cx="375.1" cy="450.8" r="1.7"/><circle cx="364.6" cy="475.9" r="1.2"/><circle cx="394.0" cy="459.4" r="0.9"/><circle cx="368.4" cy="479.9" r="1.0"/><circle cx="321.5" cy="451.6" r="1.0"/><circle cx="380.0" cy="456.9" r="1.4"/><circle cx="350.8" cy="455.9" r="1.3"/><circle cx="360.4" cy="470.7" r="1.1"/><circle cx="335.8" cy="468.2" r="1.1"/><circle cx="342.8" cy="474.3" r="1.7"/><circle cx="386.7" cy="455.1" r="1.2"/><circle cx="409.5" cy="468.7" r="0.8"/><circle cx="368.2" cy="448.8" r="1.4"/><circle cx="366.7" cy="478.9" r="1.1"/><circle cx="368.9" cy="461.5" r="1.7"/><circle cx="367.5" cy="466.1" r="1.6"/><circle cx="368.8" cy="454.7" r="1.0"/><circle cx="379.2" cy="500.8" r="1.4"/><circle cx="404.5" cy="452.2" r="1.4"/><circle cx="367.7" cy="458.1" r="0.8"/><circle cx="370.0" cy="452.6" r="1.0"/><circle cx="382.8" cy="482.6" r="1.1"/><circle cx="380.1" cy="505.0" r="1.1"/><circle cx="347.1" cy="469.3" r="0.8"/><circle cx="403.7" cy="470.4" r="1.5"/><circle cx="343.4" cy="453.5" r="0.8"/><circle cx="354.5" cy="469.7" r="1.4"/><circle cx="360.2" cy="459.9" r="1.2"/><circle cx="362.0" cy="482.5" r="1.3"/><circle cx="382.2" cy="503.0" r="1.0"/><circle cx="372.5" cy="507.8" r="1.0"/><circle cx="334.6" cy="471.7" r="1.4"/><circle cx="390.5" cy="452.9" r="1.4"/><circle cx="388.5" cy="464.0" r="0.9"/><circle cx="362.4" cy="437.4" r="1.3"/><circle cx="392.2" cy="459.6" r="1.4"/><circle cx="327.1" cy="458.7" r="0.9"/><circle cx="367.2" cy="474.6" r="1.7"/><circle cx="331.6" cy="451.6" r="1.6"/><circle cx="369.4" cy="460.2" r="1.6"/><circle cx="388.7" cy="463.3" r="1.2"/><circle cx="363.9" cy="452.6" r="1.2"/><circle cx="364.1" cy="465.4" r="1.2"/><circle cx="358.9" cy="481.4" r="1.1"/><circle cx="383.6" cy="481.2" r="1.4"/><circle cx="372.3" cy="506.4" r="1.4"/><circle cx="345.2" cy="476.7" r="1.2"/><circle cx="376.5" cy="493.5" r="1.2"/><circle cx="377.3" cy="484.7" r="1.5"/><circle cx="376.2" cy="447.4" r="1.3"/><circle cx="372.8" cy="507.0" r="1.5"/><circle cx="371.2" cy="467.1" r="1.4"/><circle cx="364.7" cy="469.9" r="1.3"/><circle cx="356.9" cy="449.2" r="1.3"/><circle cx="410.6" cy="447.2" r="0.9"/><circle cx="391.7" cy="448.4" r="1.4"/><circle cx="387.8" cy="454.3" r="1.0"/><circle cx="366.0" cy="452.4" r="1.5"/><circle cx="375.3" cy="476.4" r="1.0"/><circle cx="341.6" cy="477.2" r="1.7"/><circle cx="353.1" cy="462.6" r="1.5"/><circle cx="336.6" cy="455.8" r="1.0"/><circle cx="342.0" cy="456.5" r="1.4"/><circle cx="372.7" cy="474.2" r="0.8"/><circle cx="378.2" cy="496.8" r="0.9"/><circle cx="387.5" cy="453.1" r="1.1"/><circle cx="374.4" cy="455.8" r="1.0"/><circle cx="348.3" cy="448.1" r="1.1"/><circle cx="377.4" cy="448.8" r="1.6"/><circle cx="365.5" cy="468.5" r="1.6"/><circle cx="393.1" cy="477.4" r="1.4"/><circle cx="368.5" cy="460.5" r="1.3"/><circle cx="365.5" cy="469.8" r="1.5"/><circle cx="406.6" cy="445.1" r="1.1"/><circle cx="380.2" cy="450.1" r="1.6"/><circle cx="364.1" cy="459.2" r="1.6"/><circle cx="372.7" cy="468.7" r="1.6"/><circle cx="357.8" cy="478.8" r="1.3"/><circle cx="411.1" cy="462.3" r="1.3"/><circle cx="376.5" cy="441.0" r="1.6"/><circle cx="385.4" cy="444.6" r="1.3"/><circle cx="352.7" cy="473.8" r="0.8"/><circle cx="393.9" cy="454.0" r="1.3"/><circle cx="379.7" cy="502.8" r="1.3"/><circle cx="338.0" cy="467.1" r="1.0"/><circle cx="385.0" cy="477.9" r="1.4"/><circle cx="357.3" cy="470.0" r="0.8"/><circle cx="415.3" cy="457.1" r="0.9"/><circle cx="377.5" cy="501.1" r="1.3"/><circle cx="368.5" cy="489.0" r="1.0"/><circle cx="365.4" cy="495.4" r="1.5"/><circle cx="405.1" cy="457.9" r="0.8"/><circle cx="330.9" cy="450.2" r="0.9"/><circle cx="371.9" cy="457.4" r="1.3"/><circle cx="369.3" cy="458.4" r="0.8"/><circle cx="379.7" cy="442.7" r="0.8"/><circle cx="358.0" cy="470.9" r="0.9"/><circle cx="357.2" cy="484.4" r="1.4"/><circle cx="347.6" cy="450.7" r="1.5"/><circle cx="338.0" cy="458.9" r="1.5"/><circle cx="355.1" cy="476.0" r="1.6"/><circle cx="376.0" cy="499.1" r="1.6"/><circle cx="333.9" cy="459.7" r="0.9"/><circle cx="381.0" cy="449.7" r="1.3"/><circle cx="338.6" cy="463.2" r="1.7"/><circle cx="345.5" cy="456.6" r="1.0"/><circle cx="342.5" cy="466.0" r="1.6"/><circle cx="410.7" cy="461.1" r="1.2"/><circle cx="364.9" cy="482.5" r="1.5"/><circle cx="379.8" cy="440.1" r="1.2"/><circle cx="375.5" cy="481.6" r="0.9"/><circle cx="364.6" cy="493.8" r="1.3"/><circle cx="403.0" cy="457.1" r="1.4"/><circle cx="399.9" cy="454.9" r="1.4"/><circle cx="373.7" cy="474.1" r="1.4"/><circle cx="381.4" cy="464.9" r="1.2"/><circle cx="345.5" cy="475.7" r="1.3"/><circle cx="378.9" cy="482.2" r="1.5"/><circle cx="348.1" cy="463.9" r="1.5"/><circle cx="366.9" cy="459.2" r="1.1"/><circle cx="361.1" cy="475.8" r="1.2"/><circle cx="348.6" cy="456.8" r="1.0"/><circle cx="366.8" cy="437.7" r="1.6"/><circle cx="385.5" cy="444.3" r="1.3"/><circle cx="383.2" cy="465.1" r="1.5"/><circle cx="378.5" cy="465.1" r="1.6"/><circle cx="324.0" cy="467.8" r="1.3"/><circle cx="344.1" cy="471.7" r="1.0"/><circle cx="352.7" cy="461.0" r="1.5"/><circle cx="365.0" cy="436.6" r="1.0"/><circle cx="400.2" cy="467.2" r="1.1"/><circle cx="378.0" cy="476.7" r="1.3"/><circle cx="359.5" cy="479.5" r="1.2"/><circle cx="355.5" cy="479.4" r="1.1"/><circle cx="357.4" cy="479.1" r="1.1"/><circle cx="409.4" cy="451.5" r="0.9"/><circle cx="354.2" cy="465.3" r="1.1"/><circle cx="361.2" cy="449.5" r="0.8"/><circle cx="351.6" cy="442.5" r="0.9"/><circle cx="396.8" cy="475.8" r="1.2"/><circle cx="378.1" cy="452.9" r="1.2"/><circle cx="376.1" cy="499.7" r="1.5"/><circle cx="382.6" cy="465.3" r="1.4"/><circle cx="335.3" cy="469.9" r="1.3"/><circle cx="375.3" cy="490.9" r="0.9"/><circle cx="350.0" cy="462.6" r="1.3"/><circle cx="377.3" cy="481.0" r="1.3"/><circle cx="339.7" cy="464.5" r="1.4"/><circle cx="339.2" cy="470.2" r="0.8"/><circle cx="410.9" cy="443.9" r="0.9"/><circle cx="408.3" cy="465.4" r="1.1"/><circle cx="343.4" cy="479.5" r="1.5"/><circle cx="362.4" cy="464.0" r="1.1"/><circle cx="364.1" cy="482.5" r="1.1"/><circle cx="375.0" cy="438.7" r="1.1"/><circle cx="350.7" cy="456.9" r="0.9"/><circle cx="377.3" cy="495.0" r="1.0"/><circle cx="391.5" cy="451.5" r="1.1"/><circle cx="365.8" cy="491.3" r="1.5"/><circle cx="331.8" cy="451.5" r="1.6"/><circle cx="403.9" cy="468.3" r="1.1"/><circle cx="348.4" cy="460.9" r="1.3"/><circle cx="353.0" cy="445.4" r="0.8"/><circle cx="360.0" cy="471.2" r="1.3"/><circle cx="385.4" cy="454.2" r="1.1"/><circle cx="348.8" cy="451.1" r="0.8"/><circle cx="405.3" cy="456.2" r="1.3"/><circle cx="396.2" cy="472.1" r="1.1"/><circle cx="392.9" cy="467.8" r="1.6"/><circle cx="385.4" cy="464.4" r="1.3"/><circle cx="370.9" cy="493.3" r="0.8"/><circle cx="392.9" cy="476.9" r="1.6"/><circle cx="324.8" cy="465.5" r="1.7"/><circle cx="336.0" cy="472.6" r="1.5"/><circle cx="367.4" cy="486.6" r="1.6"/><circle cx="395.4" cy="449.3" r="1.4"/><circle cx="323.3" cy="465.8" r="0.9"/><circle cx="332.0" cy="463.1" r="1.4"/><circle cx="330.7" cy="454.0" r="1.2"/><circle cx="362.2" cy="475.3" r="1.6"/><circle cx="342.2" cy="446.8" r="1.4"/><circle cx="378.8" cy="455.3" r="1.1"/><circle cx="407.1" cy="448.3" r="1.7"/><circle cx="365.8" cy="487.5" r="1.3"/><circle cx="346.3" cy="469.5" r="1.1"/><circle cx="399.7" cy="472.9" r="1.5"/><circle cx="390.9" cy="466.5" r="1.7"/><circle cx="363.4" cy="481.7" r="1.4"/><circle cx="355.7" cy="478.8" r="1.6"/><circle cx="364.8" cy="443.6" r="1.4"/><circle cx="373.2" cy="435.8" r="1.2"/><circle cx="343.8" cy="445.4" r="1.2"/><circle cx="391.0" cy="476.7" r="1.1"/><circle cx="416.0" cy="464.2" r="1.4"/><circle cx="379.4" cy="456.4" r="1.5"/><circle cx="380.6" cy="506.8" r="1.6"/><circle cx="351.6" cy="455.5" r="1.2"/><circle cx="329.4" cy="451.7" r="0.9"/><circle cx="378.0" cy="461.3" r="1.1"/><circle cx="371.5" cy="445.3" r="1.1"/><circle cx="406.9" cy="450.6" r="1.3"/><circle cx="345.8" cy="470.3" r="1.1"/><circle cx="377.7" cy="497.2" r="0.8"/><circle cx="380.6" cy="476.0" r="1.7"/><circle cx="369.5" cy="448.8" r="1.1"/><circle cx="345.2" cy="444.7" r="1.3"/><circle cx="351.0" cy="480.8" r="1.7"/><circle cx="389.6" cy="469.7" r="1.5"/><circle cx="399.4" cy="467.2" r="0.8"/><circle cx="371.0" cy="502.0" r="0.9"/><circle cx="376.1" cy="460.5" r="1.0"/><circle cx="355.6" cy="442.4" r="1.7"/><circle cx="377.1" cy="432.1" r="0.8"/><circle cx="379.4" cy="477.4" r="1.1"/><circle cx="342.6" cy="444.9" r="0.8"/><circle cx="367.9" cy="461.0" r="1.7"/><circle cx="371.6" cy="435.3" r="1.3"/><circle cx="388.1" cy="445.8" r="1.5"/><circle cx="390.5" cy="446.8" r="1.7"/><circle cx="405.4" cy="455.6" r="1.1"/><circle cx="339.8" cy="462.1" r="1.4"/><circle cx="329.4" cy="470.3" r="1.2"/><circle cx="343.7" cy="458.9" r="0.8"/><circle cx="373.7" cy="470.5" r="1.7"/><circle cx="387.4" cy="445.1" r="1.2"/><circle cx="347.3" cy="471.8" r="1.4"/><circle cx="360.4" cy="431.0" r="1.6"/><circle cx="411.4" cy="443.9" r="0.9"/><circle cx="378.8" cy="465.6" r="1.4"/><circle cx="377.6" cy="479.1" r="1.5"/><circle cx="333.3" cy="451.6" r="1.2"/><circle cx="367.4" cy="500.9" r="1.5"/><circle cx="398.2" cy="444.5" r="0.9"/><circle cx="394.1" cy="465.3" r="1.1"/><circle cx="346.3" cy="477.0" r="1.4"/><circle cx="412.4" cy="468.0" r="1.3"/><circle cx="326.3" cy="464.4" r="1.2"/><circle cx="402.8" cy="464.0" r="0.8"/><circle cx="396.5" cy="473.2" r="0.9"/><circle cx="364.5" cy="432.1" r="0.9"/><circle cx="379.2" cy="497.2" r="0.9"/><circle cx="376.7" cy="479.3" r="0.8"/><circle cx="339.4" cy="462.0" r="1.6"/><circle cx="377.3" cy="448.0" r="1.3"/><circle cx="340.0" cy="443.6" r="0.8"/><circle cx="375.9" cy="447.0" r="1.6"/><circle cx="392.5" cy="449.7" r="1.1"/><circle cx="376.5" cy="447.8" r="1.1"/><circle cx="379.2" cy="446.6" r="1.5"/><circle cx="346.5" cy="456.4" r="1.5"/><circle cx="378.6" cy="502.8" r="1.3"/><circle cx="351.4" cy="457.7" r="1.0"/><circle cx="389.9" cy="445.2" r="1.1"/><circle cx="373.1" cy="469.0" r="1.3"/><circle cx="385.8" cy="472.2" r="1.0"/><circle cx="332.0" cy="462.6" r="1.7"/><circle cx="348.4" cy="473.6" r="1.2"/><circle cx="339.7" cy="442.7" r="1.3"/><circle cx="378.2" cy="477.6" r="1.4"/><circle cx="348.7" cy="464.6" r="1.0"/><circle cx="391.1" cy="474.4" r="1.4"/><circle cx="373.2" cy="489.2" r="1.1"/><circle cx="361.9" cy="486.5" r="1.0"/><circle cx="380.3" cy="458.2" r="0.8"/><circle cx="377.4" cy="485.2" r="1.5"/><circle cx="362.3" cy="487.1" r="1.4"/><circle cx="373.2" cy="481.0" r="0.9"/><circle cx="366.7" cy="440.5" r="1.1"/><circle cx="336.5" cy="468.9" r="0.9"/><circle cx="363.5" cy="478.7" r="0.9"/><circle cx="354.5" cy="462.7" r="0.9"/><circle cx="372.3" cy="465.2" r="1.5"/><circle cx="378.1" cy="453.2" r="1.3"/><circle cx="346.3" cy="471.3" r="0.8"/><circle cx="382.8" cy="466.5" r="0.9"/><circle cx="342.5" cy="462.4" r="1.3"/><circle cx="346.2" cy="477.2" r="1.5"/><circle cx="373.0" cy="454.1" r="1.4"/><circle cx="362.4" cy="482.4" r="1.6"/><circle cx="362.5" cy="459.5" r="1.3"/><circle cx="373.2" cy="472.4" r="1.5"/><circle cx="399.4" cy="449.3" r="1.0"/><circle cx="368.0" cy="495.3" r="0.9"/><circle cx="350.6" cy="466.8" r="1.4"/><circle cx="343.3" cy="457.2" r="0.9"/><circle cx="409.6" cy="466.1" r="1.2"/><circle cx="398.1" cy="449.1" r="0.9"/><circle cx="386.7" cy="445.4" r="1.3"/><circle cx="364.2" cy="468.3" r="0.9"/><circle cx="382.6" cy="435.3" r="0.9"/><circle cx="372.6" cy="442.9" r="1.5"/><circle cx="363.2" cy="470.6" r="1.6"/><circle cx="369.2" cy="442.0" r="1.1"/><circle cx="411.5" cy="462.1" r="1.7"/><circle cx="363.9" cy="489.3" r="1.2"/><circle cx="350.7" cy="469.5" r="1.2"/><circle cx="366.7" cy="468.5" r="1.5"/><circle cx="344.6" cy="459.7" r="1.3"/><circle cx="361.8" cy="482.4" r="1.5"/><circle cx="366.6" cy="486.8" r="1.4"/><circle cx="331.5" cy="444.9" r="0.8"/><circle cx="394.4" cy="446.0" r="1.5"/><circle cx="378.6" cy="469.5" r="0.9"/><circle cx="338.2" cy="469.5" r="1.2"/><circle cx="381.7" cy="472.7" r="1.2"/><circle cx="401.7" cy="470.1" r="1.7"/><circle cx="386.9" cy="471.7" r="0.9"/><circle cx="384.1" cy="447.1" r="1.3"/><circle cx="378.9" cy="461.8" r="1.1"/><circle cx="350.9" cy="452.4" r="1.2"/><circle cx="363.5" cy="463.2" r="1.1"/><circle cx="400.4" cy="460.8" r="1.3"/><circle cx="347.0" cy="465.6" r="0.9"/><circle cx="396.7" cy="449.6" r="1.6"/><circle cx="329.2" cy="457.7" r="1.5"/><circle cx="348.1" cy="481.0" r="1.0"/><circle cx="376.9" cy="484.8" r="1.6"/><circle cx="390.1" cy="473.0" r="1.0"/><circle cx="348.3" cy="471.7" r="1.7"/><circle cx="411.6" cy="464.9" r="1.5"/><circle cx="373.5" cy="447.7" r="1.2"/><circle cx="354.1" cy="474.0" r="1.0"/><circle cx="371.0" cy="486.7" r="1.6"/><circle cx="379.0" cy="480.3" r="1.6"/><circle cx="335.1" cy="458.2" r="1.1"/><circle cx="355.1" cy="440.0" r="0.9"/><circle cx="397.2" cy="455.7" r="1.2"/><circle cx="360.1" cy="475.0" r="1.1"/><circle cx="351.8" cy="477.4" r="1.5"/><circle cx="327.2" cy="461.2" r="1.6"/><circle cx="342.8" cy="477.0" r="1.7"/><circle cx="363.6" cy="449.0" r="1.7"/><circle cx="353.8" cy="446.7" r="1.4"/><circle cx="352.0" cy="485.6" r="1.4"/><circle cx="385.4" cy="434.5" r="1.0"/><circle cx="349.5" cy="441.8" r="0.9"/><circle cx="393.5" cy="439.9" r="1.5"/><circle cx="367.6" cy="451.1" r="1.3"/><circle cx="370.8" cy="457.3" r="1.5"/><circle cx="330.3" cy="462.0" r="0.9"/><circle cx="372.8" cy="486.4" r="1.2"/><circle cx="363.0" cy="482.0" r="1.1"/><circle cx="366.5" cy="450.2" r="1.3"/><circle cx="348.2" cy="458.8" r="0.9"/><circle cx="405.2" cy="471.1" r="1.3"/><circle cx="379.3" cy="460.1" r="1.1"/><circle cx="383.5" cy="443.9" r="1.2"/><circle cx="413.9" cy="458.4" r="1.5"/><circle cx="322.5" cy="465.0" r="1.3"/><circle cx="369.2" cy="483.0" r="1.4"/><circle cx="367.6" cy="468.4" r="1.0"/><circle cx="337.7" cy="468.2" r="0.9"/><circle cx="345.9" cy="442.1" r="0.8"/><circle cx="382.6" cy="481.0" r="1.7"/><circle cx="361.1" cy="464.0" r="1.4"/><circle cx="365.2" cy="487.5" r="1.1"/><circle cx="392.6" cy="475.6" r="1.5"/><circle cx="380.3" cy="478.6" r="1.1"/><circle cx="391.1" cy="436.0" r="1.2"/><circle cx="393.7" cy="467.7" r="1.2"/><circle cx="363.3" cy="478.6" r="1.3"/><circle cx="405.2" cy="455.0" r="1.3"/><circle cx="380.1" cy="504.7" r="1.5"/><circle cx="362.5" cy="444.5" r="1.1"/><circle cx="391.3" cy="471.7" r="0.8"/><circle cx="363.8" cy="431.1" r="1.3"/><circle cx="378.6" cy="470.9" r="1.3"/><circle cx="370.7" cy="451.7" r="0.9"/><circle cx="366.9" cy="456.7" r="1.4"/><circle cx="346.8" cy="476.2" r="1.5"/><circle cx="339.8" cy="475.1" r="1.5"/><circle cx="371.5" cy="500.9" r="1.5"/><circle cx="354.8" cy="448.6" r="0.9"/><circle cx="383.1" cy="458.4" r="1.5"/><circle cx="371.6" cy="454.6" r="0.8"/><circle cx="327.8" cy="465.3" r="0.8"/><circle cx="369.2" cy="490.4" r="1.3"/><circle cx="327.9" cy="462.0" r="1.7"/><circle cx="376.7" cy="459.3" r="0.9"/><circle cx="387.5" cy="457.1" r="1.5"/><circle cx="327.4" cy="461.3" r="1.6"/><circle cx="380.2" cy="443.0" r="0.8"/><circle cx="369.9" cy="432.7" r="1.3"/><circle cx="372.2" cy="444.2" r="1.1"/><circle cx="401.6" cy="463.4" r="1.1"/><circle cx="341.4" cy="460.3" r="1.2"/><circle cx="337.3" cy="471.3" r="0.9"/><circle cx="341.3" cy="475.9" r="0.8"/><circle cx="340.6" cy="452.1" r="1.4"/><circle cx="380.7" cy="471.8" r="1.0"/><circle cx="320.6" cy="458.0" r="1.1"/><circle cx="326.5" cy="446.7" r="1.2"/><circle cx="405.9" cy="467.5" r="1.1"/><circle cx="354.1" cy="441.0" r="0.9"/><circle cx="389.7" cy="447.4" r="1.5"/><circle cx="378.0" cy="500.6" r="1.4"/><circle cx="384.1" cy="471.5" r="1.6"/><circle cx="340.3" cy="477.2" r="1.4"/><circle cx="379.8" cy="476.7" r="1.3"/><circle cx="404.6" cy="462.2" r="1.4"/><circle cx="376.9" cy="499.4" r="0.9"/><circle cx="393.0" cy="450.8" r="1.6"/><circle cx="390.4" cy="449.7" r="1.0"/><circle cx="345.1" cy="473.2" r="0.9"/><circle cx="355.0" cy="470.3" r="0.8"/><circle cx="391.4" cy="454.8" r="1.6"/><circle cx="382.1" cy="504.2" r="1.0"/><circle cx="364.6" cy="490.9" r="1.4"/><circle cx="376.8" cy="485.7" r="0.9"/><circle cx="350.5" cy="460.6" r="1.0"/><circle cx="379.7" cy="456.6" r="1.3"/><circle cx="379.5" cy="501.1" r="0.9"/><circle cx="346.0" cy="469.1" r="1.5"/><circle cx="332.5" cy="470.0" r="1.1"/><circle cx="363.7" cy="471.1" r="1.6"/><circle cx="352.5" cy="455.4" r="1.5"/><circle cx="355.6" cy="444.2" r="1.2"/><circle cx="401.1" cy="462.5" r="1.2"/><circle cx="376.4" cy="447.7" r="1.5"/><circle cx="328.2" cy="463.8" r="1.1"/><circle cx="352.8" cy="443.0" r="0.8"/><circle cx="343.1" cy="448.4" r="1.6"/><circle cx="350.4" cy="468.2" r="1.6"/><circle cx="322.7" cy="454.3" r="0.8"/><circle cx="340.4" cy="452.8" r="1.6"/><circle cx="330.9" cy="462.6" r="1.0"/><circle cx="391.4" cy="455.8" r="1.7"/><circle cx="381.7" cy="445.4" r="1.3"/><circle cx="367.2" cy="496.9" r="1.5"/><circle cx="372.3" cy="466.5" r="1.6"/><circle cx="401.0" cy="458.9" r="1.0"/><circle cx="353.9" cy="453.0" r="1.2"/><circle cx="399.3" cy="465.8" r="1.0"/><circle cx="394.9" cy="450.8" r="1.2"/><circle cx="376.1" cy="437.2" r="1.3"/><circle cx="392.2" cy="460.0" r="1.0"/><circle cx="389.9" cy="472.9" r="1.1"/><circle cx="375.3" cy="484.2" r="0.8"/><circle cx="389.2" cy="453.9" r="1.5"/><circle cx="388.6" cy="464.5" r="1.4"/><circle cx="348.3" cy="467.4" r="1.7"/><circle cx="356.2" cy="446.7" r="1.3"/><circle cx="381.5" cy="461.8" r="0.8"/><circle cx="386.8" cy="476.6" r="1.3"/><circle cx="350.6" cy="453.9" r="1.1"/><circle cx="373.9" cy="484.9" r="1.5"/><circle cx="354.4" cy="477.4" r="1.1"/><circle cx="374.4" cy="476.5" r="0.8"/></g>
<rect x="370.4" y="505.6" width="26.7" height="3.8" fill="#b4b4b4" stroke="#333" stroke-width="0.8" />
<g transform="translate(324.2 494.2) scale(-1.17 1.17)"><rect x="11" y="35.6" width="25" height="3.8" fill="#5a5a5a"/><path d="M13 39.4h4l1 1.6h-6z M28 39.4h6l1 1.6h-8z" fill="#5a5a5a"/><rect x="0" y="27.6" width="26.5" height="8.6" fill="url(#gH)" stroke="#4a4a4a" stroke-width="0.8"/><rect x="4" y="24.6" width="21" height="3" fill="#c4c4c4" stroke="#5a5a5a" stroke-width="0.6"/><rect x="8.6" y="11" width="16.2" height="13" fill="url(#gH)" stroke="#4a4a4a" stroke-width="0.8"/><rect x="2" y="10.2" width="6.8" height="14.6" fill="url(#gH)" stroke="#4a4a4a" stroke-width="0.8"/><path d="M25 28h11v5l-3 3.5h-8z" fill="#8a8a8a" stroke="#4a4a4a" stroke-width="0.7"/><rect x="24.6" y="0" width="3.6" height="28.5" fill="#b4b4b4" stroke="#4a4a4a" stroke-width="0.8"/><rect x="25.6" y="2.3" width="1.5" height="1.4" fill="#f2f2f2"/><rect x="25.6" y="6.8" width="1.5" height="1.4" fill="#f2f2f2"/><rect x="25.6" y="11.3" width="1.5" height="1.4" fill="#f2f2f2"/><rect x="25.6" y="15.8" width="1.5" height="1.4" fill="#f2f2f2"/><rect x="25.6" y="20.3" width="1.5" height="1.4" fill="#f2f2f2"/><rect x="25.6" y="24.8" width="1.5" height="1.4" fill="#f2f2f2"/><rect x="28.2" y="0" width="8.6" height="10.2" fill="url(#gH)" stroke="#4a4a4a" stroke-width="0.8"/><rect x="28.2" y="10.8" width="8.6" height="6.4" fill="url(#gH)" stroke="#4a4a4a" stroke-width="0.7"/><rect x="28.2" y="17.6" width="8.6" height="10.8" fill="url(#gH)" stroke="#4a4a4a" stroke-width="0.7"/></g>
<rect x="296.4" y="555.2" width="120" height="14.9" rx="7" fill="url(#gBtn)" stroke="#b4b4b4" stroke-width="0.9"/>
<path d="M303.40 557.80L310.80 562.60L303.40 567.40Z" fill="#3d9210" stroke="#5aa832" stroke-width="0.7" stroke-linejoin="round"/>
<text x="314.80" y="563.40" font-family="Liberation Sans, sans-serif" font-weight="bold" font-size="7.70" fill="#1e1e1e" stroke="#1e1e1e" stroke-width="0.25" textLength="96.5" lengthAdjust="spacingAndGlyphs">ROLLOVER TO PLAY</text>
<rect x="490" y="404" width="233" height="179" fill="#eeeeee"/>
<path d="M490.5 404V582.5H720" fill="none" stroke="#a4a4a4" stroke-width="1"/>
<text x="635" y="439.1" font-family="Liberation Serif, serif" font-size="30.6" fill="#bc1a26" stroke="#bc1a26" stroke-width="0.3" textLength="47.5" lengthAdjust="spacingAndGlyphs">RHG</text>
<rect x="717.0" y="404.5" width="5.5" height="5.5" fill="#fff" stroke="#444" stroke-width="1"/>
<radialGradient id="gRoll" cx="0.42" cy="0.4" r="0.6"><stop offset="0" stop-color="#c2c2c2"/><stop offset="0.65" stop-color="#9a9a9a"/><stop offset="1" stop-color="#787878"/></radialGradient>
<circle cx="516.4" cy="490.3" r="12.8" fill="url(#gRoll)" stroke="#3c3c3c" stroke-width="1.2"/>
<circle cx="516.4" cy="516" r="12.8" fill="url(#gRoll)" stroke="#3c3c3c" stroke-width="1.2"/>
<circle cx="551" cy="493.8" r="8" fill="url(#gRoll)" stroke="#3c3c3c" stroke-width="1.2"/>
<circle cx="551" cy="511" r="8" fill="url(#gRoll)" stroke="#3c3c3c" stroke-width="1.2"/>
<path d="M573.2 513H580.5V537.3H673.5V525.3H680.5V544.3H573.2Z" fill="#8a8a8a" stroke="#333" stroke-width="0.9"/>
<linearGradient id="gTray" x1="0" y1="0" x2="1" y2="0"><stop offset="0" stop-color="#666"/><stop offset="0.5" stop-color="#aaa"/><stop offset="1" stop-color="#777"/></linearGradient>
<rect x="574" y="538" width="106" height="5.8" fill="url(#gTray)" stroke="none" stroke-width="1" />
<rect x="598" y="530.5" width="10.3" height="6.8" fill="#555" stroke="#222" stroke-width="0.7" />
<path d="M600 537L605 530M603 537L608 530" stroke="#999" stroke-width="0.8"/>
<rect x="650.5" y="530.5" width="10.3" height="6.8" fill="#555" stroke="#222" stroke-width="0.7" />
<path d="M652.5 537L657.5 530M655.5 537L660.5 530" stroke="#999" stroke-width="0.8"/>
<linearGradient id="gPlat" x1="0" y1="0" x2="1" y2="0"><stop offset="0" stop-color="#646464"/><stop offset="0.55" stop-color="#b4b4b4"/><stop offset="1" stop-color="#8a8a8a"/></linearGradient>
<rect x="586.2" y="523" width="84.6" height="7.4" fill="url(#gPlat)" stroke="#333" stroke-width="0.9" />
<rect x="589" y="502.7" width="78.4" height="19.8" fill="#dcdcdc" stroke="none" stroke-width="1" />
<path d="M589 503.50H667.4" stroke="#505050" stroke-width="1.45"/>
<path d="M589 505.96H667.4" stroke="#505050" stroke-width="1.45"/>
<path d="M589 508.42H667.4" stroke="#505050" stroke-width="1.45"/>
<path d="M589 510.88H667.4" stroke="#505050" stroke-width="1.45"/>
<path d="M589 513.34H667.4" stroke="#505050" stroke-width="1.45"/>
<path d="M589 515.80H667.4" stroke="#505050" stroke-width="1.45"/>
<path d="M589 518.26H667.4" stroke="#505050" stroke-width="1.45"/>
<path d="M589 520.72H667.4" stroke="#505050" stroke-width="1.45"/>
<circle cx="600.3" cy="470.8" r="4.6" fill="#ecb81c" stroke="#8a6410" stroke-width="0.8"/><circle cx="600.3" cy="470.8" r="1.5" fill="#f6d670" stroke="#8a6410" stroke-width="0.5"/>
<path d="M598 475H602.6V492L606.5 495V499H594.5V495L598 492Z" fill="#ecb81c" stroke="#8a6410" stroke-width="0.8"/>
<path d="M596.5 499V502M600.5 499V502M604.5 499V502" stroke="#8a6410" stroke-width="1.2"/>
<g transform="translate(685.2 481.5) scale(0.82)"><rect x="11" y="35.6" width="25" height="3.8" fill="#5a5a5a"/><path d="M13 39.4h4l1 1.6h-6z M28 39.4h6l1 1.6h-8z" fill="#5a5a5a"/><rect x="0" y="27.6" width="26.5" height="8.6" fill="url(#gH)" stroke="#4a4a4a" stroke-width="0.8"/><rect x="4" y="24.6" width="21" height="3" fill="#c4c4c4" stroke="#5a5a5a" stroke-width="0.6"/><rect x="8.6" y="11" width="16.2" height="13" fill="url(#gH)" stroke="#4a4a4a" stroke-width="0.8"/><rect x="2" y="10.2" width="6.8" height="14.6" fill="url(#gH)" stroke="#4a4a4a" stroke-width="0.8"/><path d="M25 28h11v5l-3 3.5h-8z" fill="#8a8a8a" stroke="#4a4a4a" stroke-width="0.7"/><rect x="24.6" y="0" width="3.6" height="28.5" fill="#b4b4b4" stroke="#4a4a4a" stroke-width="0.8"/><rect x="25.6" y="2.3" width="1.5" height="1.4" fill="#f2f2f2"/><rect x="25.6" y="6.8" width="1.5" height="1.4" fill="#f2f2f2"/><rect x="25.6" y="11.3" width="1.5" height="1.4" fill="#f2f2f2"/><rect x="25.6" y="15.8" width="1.5" height="1.4" fill="#f2f2f2"/><rect x="25.6" y="20.3" width="1.5" height="1.4" fill="#f2f2f2"/><rect x="25.6" y="24.8" width="1.5" height="1.4" fill="#f2f2f2"/><rect x="28.2" y="0" width="8.6" height="10.2" fill="url(#gH)" stroke="#4a4a4a" stroke-width="0.8"/><rect x="28.2" y="10.8" width="8.6" height="6.4" fill="url(#gH)" stroke="#4a4a4a" stroke-width="0.7"/><rect x="28.2" y="17.6" width="8.6" height="10.8" fill="url(#gH)" stroke="#4a4a4a" stroke-width="0.7"/></g>
<rect x="540.4" y="555.2" width="120" height="14.9" rx="7" fill="url(#gBtn)" stroke="#b4b4b4" stroke-width="0.9"/>
<path d="M547.40 557.80L554.80 562.60L547.40 567.40Z" fill="#3d9210" stroke="#5aa832" stroke-width="0.7" stroke-linejoin="round"/>
<text x="558.80" y="563.40" font-family="Liberation Sans, sans-serif" font-weight="bold" font-size="7.70" fill="#1e1e1e" stroke="#1e1e1e" stroke-width="0.25" textLength="96.5" lengthAdjust="spacingAndGlyphs">ROLLOVER TO PLAY</text>
<rect x="2.5" y="606.5" width="232" height="178" fill="#eeeeee" stroke="#adadad" stroke-width="1"/>
<rect x="246.5" y="606.5" width="232" height="178" fill="#eeeeee" stroke="#adadad" stroke-width="1"/>
<rect x="490.5" y="606.5" width="232" height="178" fill="#eeeeee" stroke="#adadad" stroke-width="1"/>
</svg>
<div class="cap" style="left:19px;top:182px">电镀池搅拌专用高压风机</div>
<div class="cap" style="left:261px;top:182px">纺织设备专用高压风机</div>
<div class="cap" style="left:506px;top:182px">纺织机械专用高压风机</div>
<div class="cap" style="left:19px;top:385.5px">废气处理专用高压风机</div>
<div class="cap" style="left:262px;top:385.5px">废物收集专用高压风机</div>
<div class="cap" style="left:506.5px;top:385.5px">木工机械专用高压风机</div>
<div class="cap" style="left:18px;top:586px">纸张处理系统专用高压风机</div>
<div class="cap" style="left:262px;top:586px">粉粒体输送专用高压风机</div>
<div class="cap" style="left:506px;top:586px">给料机加料机专用高压风机</div>
</body></html>
